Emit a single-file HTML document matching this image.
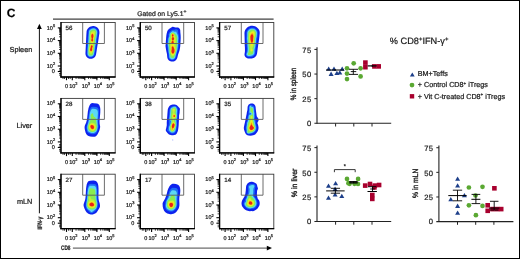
<!DOCTYPE html>
<html><head><meta charset="utf-8"><style>
html,body{margin:0;padding:0;background:#fff;}
body{width:520px;height:259px;overflow:hidden;}
svg{display:block;font-family:"Liberation Sans", sans-serif;will-change:transform;text-rendering:geometricPrecision;}
text{stroke:#1a1a1a;stroke-width:0.22px;paint-order:stroke;}
</style></head><body>
<svg width="520" height="259" viewBox="0 0 520 259">
<defs><filter id="bl" x="-20%" y="-20%" width="140%" height="140%"><feGaussianBlur stdDeviation="0.35"/></filter></defs>
<rect width="520" height="259" fill="#fff"/>
<rect x="0.5" y="0.5" width="519" height="258" fill="none" stroke="#000" stroke-width="1"/>
<text x="6.7" y="16.7" font-size="12" text-anchor="start" font-weight="bold" fill="#000" >C</text>
<g filter="url(#bl)">
<path d="M91.8,58.73 90.8,58.83 89.8,58.74 88.8,58.44 88,58.03 87.2,57.41 86.55,56.7 86.04,55.9 85.65,54.9 85.49,54.1 85.47,53.3 86.24,37.1 86.61,31.3 86.93,30.1 87.56,28.9 88.61,27.7 89.2,27.24 90,26.79 91,26.41 92,26.14 92.8,26.02 93.6,26.01 94.8,26.22 96,26.7 97,27.34 98,28.31 98.68,29.3 99.1,30.3 99.34,31.5 99.41,33.1 97.94,42.9 97.4,45.74 96.08,54.3 95.89,55.1 95.33,56.3 94.88,56.9 94.29,57.5 93.2,58.25 92.4,58.58 91.8,58.73Z" fill="#0a22ee"/>
<path d="M91.2,57.3 90.4,57.32 89.8,57.22 89,56.92 88.4,56.54 87.8,55.95 87.37,55.3 87.11,54.7 86.94,53.9 87.12,48.7 87.83,37.5 88.22,33.3 88.25,31.7 88.39,30.9 88.74,30.1 89.2,29.46 89.8,28.9 90.6,28.38 91.6,27.95 92.6,27.69 93.6,27.65 94.6,27.85 95.4,28.2 96.2,28.76 96.9,29.5 97.37,30.3 97.64,31.1 97.79,32.1 97.8,33.1 97.5,35.5 96.81,39.7 96.55,42.7 95.83,45.9 95.32,49.7 94.55,54.5 94.12,55.5 93.4,56.35 92.4,56.98 91.2,57.3Z" fill="#1e6cf6"/>
<path d="M91.2,56.5 90.4,56.53 89.8,56.42 89.2,56.17 88.8,55.9 88.39,55.5 88,54.9 87.77,54.3 87.67,53.7 87.78,49.1 88.36,41.5 88.64,39.1 88.68,37.3 88.84,35.5 89.01,31.9 89.1,31.3 89.33,30.7 89.73,30.1 90.2,29.66 91,29.18 92.19,28.7 93,28.5 93.6,28.47 94.4,28.62 95,28.88 95.63,29.3 96.22,29.9 96.62,30.5 96.92,31.3 97.06,32.1 97.08,32.9 96.51,36.9 95.94,39.5 95.9,40.1 95.98,41.7 95.91,42.5 95.17,45.5 94.49,50.5 93.84,54.3 93.48,55.1 92.8,55.86 92,56.3 91.2,56.5Z" fill="#5cd8f4"/>
<path d="M91.4,55.54 90.4,55.62 89.8,55.47 89.4,55.24 89.03,54.9 88.77,54.5 88.6,54.08 88.51,53.5 88.39,49.3 88.91,45.5 89.2,41.5 89.57,39.1 89.5,36.7 89.79,32.1 89.94,31.5 90.14,31.1 90.4,30.76 90.8,30.44 92.8,29.56 93.4,29.42 93.8,29.41 94.24,29.5 94.8,29.75 95.28,30.1 95.64,30.5 96,31.1 96.2,31.68 96.29,32.3 96.28,32.9 95.67,36.9 94.94,39.5 94.95,40.3 95.18,41.7 95.16,42.3 94.44,45.1 93.89,50.1 93.64,51.5 93.07,53.9 92.83,54.5 92.53,54.9 92.2,55.19 91.4,55.54Z" fill="#8aec50"/>
<path d="M91.2,53.91 90.8,53.95 90.4,53.85 90,53.5 89.8,53.17 89.24,51.7 88.99,50.1 89.09,48.5 90.29,43.5 90.2,41.1 90.4,38.9 90.23,36.5 90.34,34.5 90.7,32.7 90.87,32.3 91.17,31.9 91.8,31.55 93.4,30.98 94,30.9 94.49,31.1 94.88,31.5 95.13,32.1 95.19,32.7 94.73,36.7 94.13,39.1 94.1,41.7 93.46,43.9 93.59,46.3 93.25,50.1 92.99,51.3 92.49,52.5 91.8,53.5 91.2,53.91Z" fill="#c4ee3a"/>
<path d="M92.4,42.57 91.8,42.54 91.4,42.31 91.07,41.9 90.81,41.3 90.7,40.3 90.89,38.5 90.7,36.9 90.67,35.9 90.86,34.3 91.21,33.3 91.48,32.9 91.8,32.63 92.2,32.47 92.6,32.43 93.4,32.62 93.85,33.1 94.12,34.1 94.19,35.7 94.07,36.9 93.67,38.7 93.68,40.5 93.55,41.3 93.11,42.1 92.8,42.38 92.4,42.57ZM91.6,52.35 91.2,52.48 90.8,52.46 90.4,52.28 90,51.88 89.55,50.9 89.43,50.3 89.4,49.5 89.55,48.5 90.48,45.3 91,44.55 91.4,44.29 91.8,44.2 92.4,44.41 92.8,44.86 93.12,45.7 93.18,46.5 92.91,48.1 92.83,49.9 92.69,50.7 92.2,51.78 91.6,52.35Z" fill="#f4ea20"/>
<path d="M92.4,41.73 92,41.73 91.6,41.52 91.3,41.1 91.17,40.7 91.17,39.9 91.46,38.5 91.18,36.9 91.12,36.1 91.25,34.9 91.54,34.1 92,33.58 92.4,33.47 92.8,33.6 93.24,34.1 93.51,34.9 93.6,35.9 93.51,36.9 93.1,38.5 93.26,40.1 93.21,40.7 92.97,41.3 92.8,41.5 92.4,41.73ZM91.2,51.54 90.6,51.4 90.2,50.97 89.9,50.1 89.89,49.3 90.02,48.7 90.46,47.5 90.8,45.84 91.2,45.26 91.4,45.12 91.8,45.03 92.2,45.15 92.53,45.5 92.74,46.1 92.75,46.7 92.38,48.1 92.36,49.7 92.21,50.5 91.8,51.21 91.6,51.39 91.2,51.54Z" fill="#fa9418"/>
<path d="M92.4,41.36 92,41.36 91.64,41.1 91.44,40.7 91.38,40.3 91.47,39.7 91.91,38.5 91.43,36.7 91.42,35.5 91.56,34.9 91.8,34.4 92,34.19 92.4,34.05 92.8,34.27 93,34.55 93.2,35.1 93.3,35.9 93.2,36.9 92.64,38.5 93,39.9 93,40.5 92.8,41.03 92.4,41.36ZM91.4,50.98 91,51.05 90.8,50.98 90.48,50.7 90.22,50.1 90.18,49.5 90.3,48.9 90.81,47.7 90.9,46.5 91,46.07 91.2,45.7 91.4,45.52 91.8,45.4 92.1,45.5 92.31,45.7 92.49,46.1 92.52,46.5 92.4,47.1 92.01,48.1 92.06,49.5 91.99,50.1 91.8,50.58 91.4,50.98Z" fill="#e82012"/>
</g>
<path d="M82.7,22.5 V43.5 H104.4 V22.5" fill="none" stroke="#5c5c5c" stroke-width="0.9"/>
<rect x="61" y="22.5" width="54.2" height="54.5" fill="none" stroke="#3a3a3a" stroke-width="0.9"/>
<line x1="61" y1="22.1" x2="61" y2="77.6" stroke="#000" stroke-width="1.3" />
<line x1="60.4" y1="77" x2="115.6" y2="77" stroke="#000" stroke-width="1.3" />
<line x1="57.8" y1="27.9" x2="61" y2="27.9" stroke="#000" stroke-width="1.1" />
<line x1="59" y1="36.78" x2="61" y2="36.78" stroke="#000" stroke-width="0.75" />
<line x1="59" y1="34.54" x2="61" y2="34.54" stroke="#000" stroke-width="0.75" />
<line x1="59" y1="32.95" x2="61" y2="32.95" stroke="#000" stroke-width="0.75" />
<line x1="59" y1="31.72" x2="61" y2="31.72" stroke="#000" stroke-width="0.75" />
<line x1="59" y1="30.72" x2="61" y2="30.72" stroke="#000" stroke-width="0.75" />
<line x1="59" y1="29.87" x2="61" y2="29.87" stroke="#000" stroke-width="0.75" />
<line x1="59" y1="29.13" x2="61" y2="29.13" stroke="#000" stroke-width="0.75" />
<line x1="59" y1="28.48" x2="61" y2="28.48" stroke="#000" stroke-width="0.75" />
<line x1="57.8" y1="40.6" x2="61" y2="40.6" stroke="#000" stroke-width="1.1" />
<line x1="59" y1="49.48" x2="61" y2="49.48" stroke="#000" stroke-width="0.75" />
<line x1="59" y1="47.24" x2="61" y2="47.24" stroke="#000" stroke-width="0.75" />
<line x1="59" y1="45.65" x2="61" y2="45.65" stroke="#000" stroke-width="0.75" />
<line x1="59" y1="44.42" x2="61" y2="44.42" stroke="#000" stroke-width="0.75" />
<line x1="59" y1="43.42" x2="61" y2="43.42" stroke="#000" stroke-width="0.75" />
<line x1="59" y1="42.57" x2="61" y2="42.57" stroke="#000" stroke-width="0.75" />
<line x1="59" y1="41.83" x2="61" y2="41.83" stroke="#000" stroke-width="0.75" />
<line x1="59" y1="41.18" x2="61" y2="41.18" stroke="#000" stroke-width="0.75" />
<line x1="57.8" y1="53.3" x2="61" y2="53.3" stroke="#000" stroke-width="1.1" />
<line x1="59" y1="62.18" x2="61" y2="62.18" stroke="#000" stroke-width="0.75" />
<line x1="59" y1="59.94" x2="61" y2="59.94" stroke="#000" stroke-width="0.75" />
<line x1="59" y1="58.35" x2="61" y2="58.35" stroke="#000" stroke-width="0.75" />
<line x1="59" y1="57.12" x2="61" y2="57.12" stroke="#000" stroke-width="0.75" />
<line x1="59" y1="56.12" x2="61" y2="56.12" stroke="#000" stroke-width="0.75" />
<line x1="59" y1="55.27" x2="61" y2="55.27" stroke="#000" stroke-width="0.75" />
<line x1="59" y1="54.53" x2="61" y2="54.53" stroke="#000" stroke-width="0.75" />
<line x1="59" y1="53.88" x2="61" y2="53.88" stroke="#000" stroke-width="0.75" />
<line x1="57.8" y1="66" x2="61" y2="66" stroke="#000" stroke-width="1.1" />
<line x1="57.8" y1="71.5" x2="61" y2="71.5" stroke="#000" stroke-width="1.1" />
<line x1="59" y1="68.7" x2="61" y2="68.7" stroke="#000" stroke-width="0.75" />
<line x1="59" y1="70.1" x2="61" y2="70.1" stroke="#000" stroke-width="0.75" />
<line x1="59" y1="73.5" x2="61" y2="73.5" stroke="#000" stroke-width="0.75" />
<line x1="59" y1="75.1" x2="61" y2="75.1" stroke="#000" stroke-width="0.75" />
<line x1="66.5" y1="77" x2="66.5" y2="80.2" stroke="#000" stroke-width="1.1" />
<line x1="72.3" y1="77" x2="72.3" y2="80.2" stroke="#000" stroke-width="1.1" />
<line x1="84.8" y1="77" x2="84.8" y2="80.2" stroke="#000" stroke-width="1.1" />
<line x1="96.9" y1="77" x2="96.9" y2="80.2" stroke="#000" stroke-width="1.1" />
<line x1="109.3" y1="77" x2="109.3" y2="80.2" stroke="#000" stroke-width="1.1" />
<line x1="76.06" y1="77" x2="76.06" y2="79" stroke="#000" stroke-width="0.75" />
<line x1="78.26" y1="77" x2="78.26" y2="79" stroke="#000" stroke-width="0.75" />
<line x1="79.83" y1="77" x2="79.83" y2="79" stroke="#000" stroke-width="0.75" />
<line x1="81.04" y1="77" x2="81.04" y2="79" stroke="#000" stroke-width="0.75" />
<line x1="82.03" y1="77" x2="82.03" y2="79" stroke="#000" stroke-width="0.75" />
<line x1="82.86" y1="77" x2="82.86" y2="79" stroke="#000" stroke-width="0.75" />
<line x1="83.59" y1="77" x2="83.59" y2="79" stroke="#000" stroke-width="0.75" />
<line x1="84.23" y1="77" x2="84.23" y2="79" stroke="#000" stroke-width="0.75" />
<line x1="88.56" y1="77" x2="88.56" y2="79" stroke="#000" stroke-width="0.75" />
<line x1="90.76" y1="77" x2="90.76" y2="79" stroke="#000" stroke-width="0.75" />
<line x1="92.33" y1="77" x2="92.33" y2="79" stroke="#000" stroke-width="0.75" />
<line x1="93.54" y1="77" x2="93.54" y2="79" stroke="#000" stroke-width="0.75" />
<line x1="94.53" y1="77" x2="94.53" y2="79" stroke="#000" stroke-width="0.75" />
<line x1="95.36" y1="77" x2="95.36" y2="79" stroke="#000" stroke-width="0.75" />
<line x1="96.09" y1="77" x2="96.09" y2="79" stroke="#000" stroke-width="0.75" />
<line x1="96.73" y1="77" x2="96.73" y2="79" stroke="#000" stroke-width="0.75" />
<line x1="100.66" y1="77" x2="100.66" y2="79" stroke="#000" stroke-width="0.75" />
<line x1="102.86" y1="77" x2="102.86" y2="79" stroke="#000" stroke-width="0.75" />
<line x1="104.43" y1="77" x2="104.43" y2="79" stroke="#000" stroke-width="0.75" />
<line x1="105.64" y1="77" x2="105.64" y2="79" stroke="#000" stroke-width="0.75" />
<line x1="106.63" y1="77" x2="106.63" y2="79" stroke="#000" stroke-width="0.75" />
<line x1="107.46" y1="77" x2="107.46" y2="79" stroke="#000" stroke-width="0.75" />
<line x1="108.19" y1="77" x2="108.19" y2="79" stroke="#000" stroke-width="0.75" />
<line x1="108.83" y1="77" x2="108.83" y2="79" stroke="#000" stroke-width="0.75" />
<line x1="63" y1="77" x2="63" y2="79" stroke="#000" stroke-width="0.75" />
<line x1="64.5" y1="77" x2="64.5" y2="79" stroke="#000" stroke-width="0.75" />
<line x1="68.5" y1="77" x2="68.5" y2="79" stroke="#000" stroke-width="0.75" />
<line x1="70.2" y1="77" x2="70.2" y2="79" stroke="#000" stroke-width="0.75" />
<text x="55.1" y="29.55" font-size="5.5" text-anchor="end" fill="#1a1a1a">10<tspan font-size="3.96" dy="-2.31">5</tspan></text>
<text x="55.1" y="42.25" font-size="5.5" text-anchor="end" fill="#1a1a1a">10<tspan font-size="3.96" dy="-2.31">4</tspan></text>
<text x="55.1" y="54.95" font-size="5.5" text-anchor="end" fill="#1a1a1a">10<tspan font-size="3.96" dy="-2.31">3</tspan></text>
<text x="55.1" y="67.65" font-size="5.5" text-anchor="end" fill="#1a1a1a">10<tspan font-size="3.96" dy="-2.31">2</tspan></text>
<text x="54.9" y="73.2" font-size="5.5" text-anchor="end" fill="#1a1a1a" >0</text>
<text x="66.5" y="87.8" font-size="5.5" text-anchor="middle" fill="#1a1a1a" >0</text>
<text x="73.3" y="87.8" font-size="5.5" text-anchor="middle" fill="#1a1a1a">10<tspan font-size="3.96" dy="-2.31">2</tspan></text>
<text x="85.8" y="87.8" font-size="5.5" text-anchor="middle" fill="#1a1a1a">10<tspan font-size="3.96" dy="-2.31">3</tspan></text>
<text x="97.9" y="87.8" font-size="5.5" text-anchor="middle" fill="#1a1a1a">10<tspan font-size="3.96" dy="-2.31">4</tspan></text>
<text x="110.3" y="87.8" font-size="5.5" text-anchor="middle" fill="#1a1a1a">10<tspan font-size="3.96" dy="-2.31">5</tspan></text>
<text x="65.6" y="29.9" font-size="6.2" text-anchor="start" fill="#1a1a1a" >56</text>
<g filter="url(#bl)">
<path d="M172.9,61.51 172.1,61.55 171.3,61.47 170.5,61.26 169.9,61 169.3,60.63 168.5,59.93 167.99,59.3 167.66,58.7 167.25,57.3 167,54.3 166.14,50.3 165.49,45.9 165.7,43.9 166.19,36.7 166.58,34.1 167.28,31.3 167.57,30.7 168.01,30.1 169.3,28.8 172.1,26.95 172.5,26.8 172.9,26.76 175.5,27.41 176.1,27.47 177.5,27.41 178.1,27.51 178.9,27.91 179.67,28.7 180.07,29.5 180.25,30.3 180.33,32.3 180.63,35.5 180.7,37.7 180.48,42.9 180.15,46.9 179.96,48.3 179.44,50.7 178.1,54.38 177.21,57.9 176.87,58.7 176.52,59.3 176.04,59.9 175.5,60.41 174.3,61.14 173.5,61.41 172.9,61.51Z" fill="#0a22ee"/>
<path d="M173.3,59.94 172.7,60.06 172.1,60.07 171.5,59.98 170.7,59.71 169.95,59.3 169.44,58.9 169.1,58.5 168.82,57.9 168.65,56.9 168.56,54.5 168.14,52.5 167.76,49.7 167.65,47.9 167.22,45.5 167.23,44.1 167.61,39.3 167.85,37.9 168.48,36.7 168.61,36.3 168.65,35.9 168.49,34.7 168.59,33.9 169.01,32.9 169.7,31.94 171.7,30.25 172.5,29.77 173.1,29.65 174.3,29.65 175.7,29.35 176.5,29.32 177.3,29.56 177.69,29.9 177.92,30.3 178.07,30.9 178.21,32.7 178.75,34.9 178.94,36.1 179.05,38.7 178.82,40.7 178.86,43.1 178.57,46.3 177.99,49.7 176.78,53.5 176.3,55.9 175.83,57.5 175.44,58.3 174.79,59.1 174.1,59.61 173.3,59.94Z" fill="#1e6cf6"/>
<path d="M173.3,59.11 172.3,59.23 171.7,59.13 171.02,58.9 170.5,58.64 170.04,58.3 169.73,57.9 169.55,57.5 169.41,56.7 169.32,54.7 168.8,52.3 168.33,47.3 167.95,45.3 167.88,44.5 168.18,42.3 168.48,38.9 168.72,38.1 169.23,37.1 169.43,36.5 169.5,34.7 169.64,34.1 170.1,33.3 171.1,32.24 172.1,31.45 172.5,31.27 172.9,31.21 173.3,31.27 174.7,31.72 175.23,31.7 175.9,31.52 176.1,31.53 176.29,31.7 176.65,32.7 177.46,34.3 177.82,35.3 178.1,36.65 178.21,38.1 178.17,39.1 177.89,40.9 178.03,42.7 177.99,43.9 177.57,47.5 177.22,49.7 175.11,57.3 174.8,57.9 174.31,58.5 173.9,58.82 173.3,59.11Z" fill="#5cd8f4"/>
<path d="M173.3,57.99 172.9,58.09 172.5,58.08 171.5,57.78 170.9,57.46 170.47,56.9 170.06,54.5 169.52,52.3 169.09,46.7 168.97,46.1 168.62,45.1 168.53,44.5 168.6,43.9 169.07,42.3 169.4,38.9 170.1,36.75 170.29,35.1 170.45,34.5 170.89,33.7 171.5,33.03 172.1,32.62 172.7,32.45 173.3,32.57 174.1,33.05 175.77,34.5 176.3,35.09 176.7,35.77 176.97,36.5 177.17,37.5 177.25,38.5 177.04,40.9 177.09,43.5 176.48,49.9 175.41,53.9 174.31,56.9 173.9,57.56 173.3,57.99Z" fill="#8aec50"/>
<path d="M173.1,56 172.7,56.07 172.3,56 171.9,55.81 171.5,55.43 170.98,54.5 170.42,52.9 170.17,51.3 170.34,49.3 170.11,47.5 170.18,45.9 170.1,45.39 169.8,44.5 170.18,42.9 170.45,40.7 170.51,38.7 170.89,36.9 170.9,35.5 170.99,34.9 171.22,34.3 171.67,33.7 172.1,33.38 172.7,33.22 173.3,33.36 173.7,33.62 174.16,34.1 174.41,34.5 174.65,35.1 175.03,36.5 175.66,37.9 175.84,39.1 175.71,42.7 175.45,45.5 175.51,46.9 175.82,48.9 175.76,50.1 175.26,52.5 174.7,54.06 174.3,54.8 173.9,55.36 173.5,55.76 173.1,56Z" fill="#c4ee3a"/>
<path d="M172.9,54.9 172.5,54.85 172.1,54.67 171.7,54.31 171.41,53.9 170.9,52.7 170.68,51.3 170.97,49.1 170.8,47.7 170.82,47.1 171.4,44.9 171.37,44.5 170.96,43.3 170.87,42.5 170.93,41.9 171.28,40.5 171.09,38.9 171.14,38.3 171.45,36.9 171.31,35.7 171.33,35.1 171.52,34.5 171.79,34.1 172.3,33.73 172.7,33.65 173.1,33.72 173.5,33.96 173.81,34.3 174.03,34.7 174.2,35.5 174.19,36.7 174.79,38.1 174.88,38.5 174.87,39.3 174.39,40.9 174.55,42.1 174.52,42.9 174.01,44.5 173.97,44.9 174.1,45.5 175.17,48.7 175.3,49.7 175,51.9 174.5,53.42 174.1,54.11 173.7,54.55 173.3,54.81 172.9,54.9Z" fill="#f4ea20"/>
<path d="M172.9,44.14 172.5,44.18 171.9,43.8 171.5,43.17 171.37,42.5 171.5,41.78 171.99,40.9 172.09,40.5 171.7,39.5 171.58,38.9 171.63,38.3 172.11,36.9 171.75,35.7 171.73,35.1 171.86,34.7 172.1,34.37 172.3,34.22 172.7,34.11 173.1,34.21 173.3,34.35 173.65,34.9 173.72,35.5 173.48,36.5 173.48,36.9 174.2,38.1 174.33,38.7 174.17,39.5 173.44,40.7 173.9,42.1 173.88,42.9 173.5,43.67 172.9,44.14ZM173.1,53.94 172.5,53.87 171.9,53.38 171.45,52.5 171.25,51.5 171.27,50.9 171.54,49.3 171.46,47.7 171.53,47.1 171.9,46.25 172.1,46 172.5,45.75 172.9,45.82 173.5,46.5 174.46,48.7 174.7,49.7 174.62,51.3 174.3,52.63 174.08,53.1 173.7,53.6 173.1,53.94Z" fill="#fa9418"/>
<path d="M172.7,36.51 172.3,36.22 172.1,35.91 171.97,35.3 172.16,34.7 172.37,34.5 172.7,34.4 173.04,34.5 173.26,34.7 173.46,35.3 173.41,35.7 173.23,36.1 172.9,36.47 172.7,36.51ZM173.1,40.18 172.7,40.22 172.3,39.94 172,39.5 171.83,38.9 171.88,38.3 172.04,37.9 172.3,37.51 172.7,37.16 173.1,37.23 173.5,37.55 173.9,38.07 174.05,38.5 174.03,39.1 173.85,39.5 173.5,39.91 173.1,40.18ZM172.7,43.74 172.3,43.66 171.9,43.33 171.68,42.9 171.62,42.5 171.67,42.1 171.9,41.6 172.3,41.19 172.7,41.04 173.1,41.24 173.33,41.5 173.55,41.9 173.66,42.5 173.59,42.9 173.39,43.3 173.1,43.59 172.7,43.74ZM173.3,53.36 173.1,53.43 172.7,53.41 172.21,53.1 171.82,52.5 171.61,51.7 171.6,50.9 171.87,49.3 171.87,47.5 172.1,46.9 172.5,46.57 172.9,46.65 173.3,47.1 174.04,48.7 174.32,49.7 174.34,51.1 174.17,52.1 173.8,52.9 173.3,53.36Z" fill="#e82012"/>
</g>
<path d="M162,22.5 V43.5 H183.7 V22.5" fill="none" stroke="#5c5c5c" stroke-width="0.9"/>
<rect x="140.3" y="22.5" width="54.2" height="54.5" fill="none" stroke="#3a3a3a" stroke-width="0.9"/>
<line x1="140.3" y1="22.1" x2="140.3" y2="77.6" stroke="#000" stroke-width="1.3" />
<line x1="139.7" y1="77" x2="194.9" y2="77" stroke="#000" stroke-width="1.3" />
<line x1="137.1" y1="27.9" x2="140.3" y2="27.9" stroke="#000" stroke-width="1.1" />
<line x1="138.3" y1="36.78" x2="140.3" y2="36.78" stroke="#000" stroke-width="0.75" />
<line x1="138.3" y1="34.54" x2="140.3" y2="34.54" stroke="#000" stroke-width="0.75" />
<line x1="138.3" y1="32.95" x2="140.3" y2="32.95" stroke="#000" stroke-width="0.75" />
<line x1="138.3" y1="31.72" x2="140.3" y2="31.72" stroke="#000" stroke-width="0.75" />
<line x1="138.3" y1="30.72" x2="140.3" y2="30.72" stroke="#000" stroke-width="0.75" />
<line x1="138.3" y1="29.87" x2="140.3" y2="29.87" stroke="#000" stroke-width="0.75" />
<line x1="138.3" y1="29.13" x2="140.3" y2="29.13" stroke="#000" stroke-width="0.75" />
<line x1="138.3" y1="28.48" x2="140.3" y2="28.48" stroke="#000" stroke-width="0.75" />
<line x1="137.1" y1="40.6" x2="140.3" y2="40.6" stroke="#000" stroke-width="1.1" />
<line x1="138.3" y1="49.48" x2="140.3" y2="49.48" stroke="#000" stroke-width="0.75" />
<line x1="138.3" y1="47.24" x2="140.3" y2="47.24" stroke="#000" stroke-width="0.75" />
<line x1="138.3" y1="45.65" x2="140.3" y2="45.65" stroke="#000" stroke-width="0.75" />
<line x1="138.3" y1="44.42" x2="140.3" y2="44.42" stroke="#000" stroke-width="0.75" />
<line x1="138.3" y1="43.42" x2="140.3" y2="43.42" stroke="#000" stroke-width="0.75" />
<line x1="138.3" y1="42.57" x2="140.3" y2="42.57" stroke="#000" stroke-width="0.75" />
<line x1="138.3" y1="41.83" x2="140.3" y2="41.83" stroke="#000" stroke-width="0.75" />
<line x1="138.3" y1="41.18" x2="140.3" y2="41.18" stroke="#000" stroke-width="0.75" />
<line x1="137.1" y1="53.3" x2="140.3" y2="53.3" stroke="#000" stroke-width="1.1" />
<line x1="138.3" y1="62.18" x2="140.3" y2="62.18" stroke="#000" stroke-width="0.75" />
<line x1="138.3" y1="59.94" x2="140.3" y2="59.94" stroke="#000" stroke-width="0.75" />
<line x1="138.3" y1="58.35" x2="140.3" y2="58.35" stroke="#000" stroke-width="0.75" />
<line x1="138.3" y1="57.12" x2="140.3" y2="57.12" stroke="#000" stroke-width="0.75" />
<line x1="138.3" y1="56.12" x2="140.3" y2="56.12" stroke="#000" stroke-width="0.75" />
<line x1="138.3" y1="55.27" x2="140.3" y2="55.27" stroke="#000" stroke-width="0.75" />
<line x1="138.3" y1="54.53" x2="140.3" y2="54.53" stroke="#000" stroke-width="0.75" />
<line x1="138.3" y1="53.88" x2="140.3" y2="53.88" stroke="#000" stroke-width="0.75" />
<line x1="137.1" y1="66" x2="140.3" y2="66" stroke="#000" stroke-width="1.1" />
<line x1="137.1" y1="71.5" x2="140.3" y2="71.5" stroke="#000" stroke-width="1.1" />
<line x1="138.3" y1="68.7" x2="140.3" y2="68.7" stroke="#000" stroke-width="0.75" />
<line x1="138.3" y1="70.1" x2="140.3" y2="70.1" stroke="#000" stroke-width="0.75" />
<line x1="138.3" y1="73.5" x2="140.3" y2="73.5" stroke="#000" stroke-width="0.75" />
<line x1="138.3" y1="75.1" x2="140.3" y2="75.1" stroke="#000" stroke-width="0.75" />
<line x1="145.8" y1="77" x2="145.8" y2="80.2" stroke="#000" stroke-width="1.1" />
<line x1="151.6" y1="77" x2="151.6" y2="80.2" stroke="#000" stroke-width="1.1" />
<line x1="164.1" y1="77" x2="164.1" y2="80.2" stroke="#000" stroke-width="1.1" />
<line x1="176.2" y1="77" x2="176.2" y2="80.2" stroke="#000" stroke-width="1.1" />
<line x1="188.6" y1="77" x2="188.6" y2="80.2" stroke="#000" stroke-width="1.1" />
<line x1="155.36" y1="77" x2="155.36" y2="79" stroke="#000" stroke-width="0.75" />
<line x1="157.56" y1="77" x2="157.56" y2="79" stroke="#000" stroke-width="0.75" />
<line x1="159.13" y1="77" x2="159.13" y2="79" stroke="#000" stroke-width="0.75" />
<line x1="160.34" y1="77" x2="160.34" y2="79" stroke="#000" stroke-width="0.75" />
<line x1="161.33" y1="77" x2="161.33" y2="79" stroke="#000" stroke-width="0.75" />
<line x1="162.16" y1="77" x2="162.16" y2="79" stroke="#000" stroke-width="0.75" />
<line x1="162.89" y1="77" x2="162.89" y2="79" stroke="#000" stroke-width="0.75" />
<line x1="163.53" y1="77" x2="163.53" y2="79" stroke="#000" stroke-width="0.75" />
<line x1="167.86" y1="77" x2="167.86" y2="79" stroke="#000" stroke-width="0.75" />
<line x1="170.06" y1="77" x2="170.06" y2="79" stroke="#000" stroke-width="0.75" />
<line x1="171.63" y1="77" x2="171.63" y2="79" stroke="#000" stroke-width="0.75" />
<line x1="172.84" y1="77" x2="172.84" y2="79" stroke="#000" stroke-width="0.75" />
<line x1="173.83" y1="77" x2="173.83" y2="79" stroke="#000" stroke-width="0.75" />
<line x1="174.66" y1="77" x2="174.66" y2="79" stroke="#000" stroke-width="0.75" />
<line x1="175.39" y1="77" x2="175.39" y2="79" stroke="#000" stroke-width="0.75" />
<line x1="176.03" y1="77" x2="176.03" y2="79" stroke="#000" stroke-width="0.75" />
<line x1="179.96" y1="77" x2="179.96" y2="79" stroke="#000" stroke-width="0.75" />
<line x1="182.16" y1="77" x2="182.16" y2="79" stroke="#000" stroke-width="0.75" />
<line x1="183.73" y1="77" x2="183.73" y2="79" stroke="#000" stroke-width="0.75" />
<line x1="184.94" y1="77" x2="184.94" y2="79" stroke="#000" stroke-width="0.75" />
<line x1="185.93" y1="77" x2="185.93" y2="79" stroke="#000" stroke-width="0.75" />
<line x1="186.76" y1="77" x2="186.76" y2="79" stroke="#000" stroke-width="0.75" />
<line x1="187.49" y1="77" x2="187.49" y2="79" stroke="#000" stroke-width="0.75" />
<line x1="188.13" y1="77" x2="188.13" y2="79" stroke="#000" stroke-width="0.75" />
<line x1="142.3" y1="77" x2="142.3" y2="79" stroke="#000" stroke-width="0.75" />
<line x1="143.8" y1="77" x2="143.8" y2="79" stroke="#000" stroke-width="0.75" />
<line x1="147.8" y1="77" x2="147.8" y2="79" stroke="#000" stroke-width="0.75" />
<line x1="149.5" y1="77" x2="149.5" y2="79" stroke="#000" stroke-width="0.75" />
<text x="134.4" y="29.55" font-size="5.5" text-anchor="end" fill="#1a1a1a">10<tspan font-size="3.96" dy="-2.31">5</tspan></text>
<text x="134.4" y="42.25" font-size="5.5" text-anchor="end" fill="#1a1a1a">10<tspan font-size="3.96" dy="-2.31">4</tspan></text>
<text x="134.4" y="54.95" font-size="5.5" text-anchor="end" fill="#1a1a1a">10<tspan font-size="3.96" dy="-2.31">3</tspan></text>
<text x="134.4" y="67.65" font-size="5.5" text-anchor="end" fill="#1a1a1a">10<tspan font-size="3.96" dy="-2.31">2</tspan></text>
<text x="134.2" y="73.2" font-size="5.5" text-anchor="end" fill="#1a1a1a" >0</text>
<text x="145.8" y="87.8" font-size="5.5" text-anchor="middle" fill="#1a1a1a" >0</text>
<text x="152.6" y="87.8" font-size="5.5" text-anchor="middle" fill="#1a1a1a">10<tspan font-size="3.96" dy="-2.31">2</tspan></text>
<text x="165.1" y="87.8" font-size="5.5" text-anchor="middle" fill="#1a1a1a">10<tspan font-size="3.96" dy="-2.31">3</tspan></text>
<text x="177.2" y="87.8" font-size="5.5" text-anchor="middle" fill="#1a1a1a">10<tspan font-size="3.96" dy="-2.31">4</tspan></text>
<text x="189.6" y="87.8" font-size="5.5" text-anchor="middle" fill="#1a1a1a">10<tspan font-size="3.96" dy="-2.31">5</tspan></text>
<text x="144.9" y="29.9" font-size="6.2" text-anchor="start" fill="#1a1a1a" >50</text>
<g filter="url(#bl)">
<path d="M251.8,58.52 250.8,58.61 249.4,58.59 248.2,58.45 247.2,58.18 246.4,57.81 245.6,57.18 245.06,56.5 244.68,55.7 244.54,55.1 244.5,54.3 244.92,51.7 244.97,50.1 244.9,47.3 244.7,44.7 244.73,42.1 244.47,32.9 244.67,31.5 245.16,30.1 245.86,28.9 246.93,27.7 248.2,26.78 249.6,26.13 250.8,25.83 252.4,25.75 253.8,25.89 255,26.24 256.4,26.98 257.51,27.9 258.53,29.1 259.25,30.3 259.59,31.5 259.72,33.1 258.96,40.3 258.21,44.7 257.09,53.3 256.86,54.3 256.55,55.1 256.08,55.9 255.6,56.51 255,57.08 254.2,57.64 253.4,58.06 252.6,58.34 251.8,58.52Z" fill="#0a22ee"/>
<path d="M250,56.92 248.4,56.92 247.8,56.79 247.2,56.52 246.64,56.1 246.31,55.7 246.09,55.3 245.93,54.7 245.99,53.7 246.56,52.1 246.69,51.5 246.92,48.7 246.73,45.9 246.59,41.7 246.22,38.5 246.44,35.7 246.43,32.7 246.7,31.5 247.19,30.5 248,29.52 249,28.69 249.8,28.21 250.6,27.93 251.6,27.81 253.2,27.83 254.4,28.11 255.4,28.65 256.4,29.56 257.18,30.7 257.58,31.7 257.79,32.9 257.8,33.5 257.53,36.1 255.57,50.1 255.27,53.1 255.06,53.9 254.78,54.5 254.37,55.1 253.8,55.68 253.2,56.1 252.6,56.4 251.8,56.65 250,56.92Z" fill="#1e6cf6"/>
<path d="M249.4,56.11 248.4,56.09 247.6,55.82 246.98,55.3 246.76,54.9 246.66,54.5 246.76,53.7 247.4,52.3 247.59,51.7 247.91,48.9 247.64,46.1 247.44,41.3 247.09,38.5 247.31,35.9 247.32,32.7 247.59,31.7 248,30.97 248.61,30.3 249.8,29.32 250.4,28.96 251.2,28.71 252,28.63 253,28.66 254,28.89 255,29.45 255.8,30.2 256.4,31.1 256.77,32.1 256.92,33.1 256.73,36.1 256.54,37.1 256,38.9 255.89,41.7 255.13,47.1 254.93,48.1 254.4,49.9 254.42,52.1 254.36,52.9 254.23,53.5 253.94,54.1 253.6,54.57 253.2,54.95 252.6,55.34 251.4,55.76 249.4,56.11Z" fill="#5cd8f4"/>
<path d="M249.6,54.94 249,55.01 248.35,54.9 248.04,54.7 247.89,54.5 247.81,54.1 247.97,53.5 248.55,52.3 248.66,51.9 248.89,49.3 248.85,48.3 248.56,45.9 248.13,38.7 248.2,32.9 248.4,32.19 248.8,31.55 249.2,31.16 250.6,30.1 251.2,29.73 251.8,29.54 252.4,29.47 253,29.51 253.8,29.74 254.6,30.23 255.25,30.9 255.73,31.7 255.94,32.3 256.07,33.1 255.96,35.9 255.78,36.7 255.2,37.93 255,38.69 254.98,39.3 255.1,40.9 255.02,42.1 254.22,46.9 253.98,47.7 253.44,48.9 253.42,50.5 253.18,53.1 252.8,53.75 252.2,54.19 249.6,54.94Z" fill="#8aec50"/>
<path d="M251.6,51.73 251,51.65 250.6,51.36 250.33,50.9 250.18,50.3 250.25,48.3 249.63,44.9 249.23,40.9 249.09,36.7 249.15,34.1 249.28,33.1 249.67,32.5 251.03,31.7 252.2,30.83 252.6,30.67 253,30.65 253.6,30.81 254,31.05 254.46,31.5 254.83,32.1 255.03,32.7 255.1,33.3 255.04,35.5 254.95,36.1 254.46,37.5 254.3,38.3 254.33,41.3 253.97,43.5 253.2,46.34 252.88,47.1 252.31,48.1 252.32,48.5 252.84,49.7 252.84,50.5 252.68,50.9 252.4,51.29 252,51.6 251.6,51.73Z" fill="#c4ee3a"/>
<path d="M251.8,45.76 251.6,45.75 251.2,45.54 250.86,45.1 250.51,44.3 250.18,43.1 249.94,41.7 249.8,40.3 249.66,37.1 249.7,35.9 249.94,34.1 250.15,33.5 250.4,33.12 250.96,32.7 252.2,31.99 252.6,31.81 253,31.75 253.4,31.84 253.8,32.15 254.12,32.7 254.26,33.3 254.28,35.5 253.86,38.3 253.84,41.1 253.55,42.7 253,44.35 252.4,45.37 252.2,45.56 251.8,45.76ZM252,50.93 251.6,50.99 251.34,50.9 251.09,50.7 250.88,50.3 250.91,49.7 251.18,49.3 251.4,49.16 251.8,49.14 252,49.21 252.2,49.36 252.43,49.7 252.51,50.1 252.42,50.5 252.2,50.8 252,50.93Z" fill="#f4ea20"/>
<path d="M252,43.54 251.6,43.47 251.22,43.1 250.99,42.7 250.71,41.9 250.4,40.1 250.21,36.9 250.4,35.57 250.89,34.3 251.2,33.86 251.6,33.53 252,33.33 252.4,33.26 252.8,33.4 253.17,34.1 253.5,35.5 253.55,36.5 253.34,40.5 253.2,41.47 252.95,42.3 252.6,43.03 252.4,43.28 252,43.54Z" fill="#fa9418"/>
<path d="M252,42.52 251.6,42.4 251.4,42.19 250.99,41.3 250.73,39.9 250.5,37.1 250.62,36.1 251,35.15 251.4,34.63 251.8,34.38 252,34.34 252.4,34.44 252.81,34.9 253.13,35.7 253.24,36.7 252.95,40.9 252.6,41.95 252.4,42.25 252,42.52Z" fill="#e82012"/>
</g>
<path d="M241.3,22.5 V43.5 H263 V22.5" fill="none" stroke="#5c5c5c" stroke-width="0.9"/>
<rect x="219.6" y="22.5" width="54.2" height="54.5" fill="none" stroke="#3a3a3a" stroke-width="0.9"/>
<line x1="219.6" y1="22.1" x2="219.6" y2="77.6" stroke="#000" stroke-width="1.3" />
<line x1="219" y1="77" x2="274.2" y2="77" stroke="#000" stroke-width="1.3" />
<line x1="216.4" y1="27.9" x2="219.6" y2="27.9" stroke="#000" stroke-width="1.1" />
<line x1="217.6" y1="36.78" x2="219.6" y2="36.78" stroke="#000" stroke-width="0.75" />
<line x1="217.6" y1="34.54" x2="219.6" y2="34.54" stroke="#000" stroke-width="0.75" />
<line x1="217.6" y1="32.95" x2="219.6" y2="32.95" stroke="#000" stroke-width="0.75" />
<line x1="217.6" y1="31.72" x2="219.6" y2="31.72" stroke="#000" stroke-width="0.75" />
<line x1="217.6" y1="30.72" x2="219.6" y2="30.72" stroke="#000" stroke-width="0.75" />
<line x1="217.6" y1="29.87" x2="219.6" y2="29.87" stroke="#000" stroke-width="0.75" />
<line x1="217.6" y1="29.13" x2="219.6" y2="29.13" stroke="#000" stroke-width="0.75" />
<line x1="217.6" y1="28.48" x2="219.6" y2="28.48" stroke="#000" stroke-width="0.75" />
<line x1="216.4" y1="40.6" x2="219.6" y2="40.6" stroke="#000" stroke-width="1.1" />
<line x1="217.6" y1="49.48" x2="219.6" y2="49.48" stroke="#000" stroke-width="0.75" />
<line x1="217.6" y1="47.24" x2="219.6" y2="47.24" stroke="#000" stroke-width="0.75" />
<line x1="217.6" y1="45.65" x2="219.6" y2="45.65" stroke="#000" stroke-width="0.75" />
<line x1="217.6" y1="44.42" x2="219.6" y2="44.42" stroke="#000" stroke-width="0.75" />
<line x1="217.6" y1="43.42" x2="219.6" y2="43.42" stroke="#000" stroke-width="0.75" />
<line x1="217.6" y1="42.57" x2="219.6" y2="42.57" stroke="#000" stroke-width="0.75" />
<line x1="217.6" y1="41.83" x2="219.6" y2="41.83" stroke="#000" stroke-width="0.75" />
<line x1="217.6" y1="41.18" x2="219.6" y2="41.18" stroke="#000" stroke-width="0.75" />
<line x1="216.4" y1="53.3" x2="219.6" y2="53.3" stroke="#000" stroke-width="1.1" />
<line x1="217.6" y1="62.18" x2="219.6" y2="62.18" stroke="#000" stroke-width="0.75" />
<line x1="217.6" y1="59.94" x2="219.6" y2="59.94" stroke="#000" stroke-width="0.75" />
<line x1="217.6" y1="58.35" x2="219.6" y2="58.35" stroke="#000" stroke-width="0.75" />
<line x1="217.6" y1="57.12" x2="219.6" y2="57.12" stroke="#000" stroke-width="0.75" />
<line x1="217.6" y1="56.12" x2="219.6" y2="56.12" stroke="#000" stroke-width="0.75" />
<line x1="217.6" y1="55.27" x2="219.6" y2="55.27" stroke="#000" stroke-width="0.75" />
<line x1="217.6" y1="54.53" x2="219.6" y2="54.53" stroke="#000" stroke-width="0.75" />
<line x1="217.6" y1="53.88" x2="219.6" y2="53.88" stroke="#000" stroke-width="0.75" />
<line x1="216.4" y1="66" x2="219.6" y2="66" stroke="#000" stroke-width="1.1" />
<line x1="216.4" y1="71.5" x2="219.6" y2="71.5" stroke="#000" stroke-width="1.1" />
<line x1="217.6" y1="68.7" x2="219.6" y2="68.7" stroke="#000" stroke-width="0.75" />
<line x1="217.6" y1="70.1" x2="219.6" y2="70.1" stroke="#000" stroke-width="0.75" />
<line x1="217.6" y1="73.5" x2="219.6" y2="73.5" stroke="#000" stroke-width="0.75" />
<line x1="217.6" y1="75.1" x2="219.6" y2="75.1" stroke="#000" stroke-width="0.75" />
<line x1="225.1" y1="77" x2="225.1" y2="80.2" stroke="#000" stroke-width="1.1" />
<line x1="230.9" y1="77" x2="230.9" y2="80.2" stroke="#000" stroke-width="1.1" />
<line x1="243.4" y1="77" x2="243.4" y2="80.2" stroke="#000" stroke-width="1.1" />
<line x1="255.5" y1="77" x2="255.5" y2="80.2" stroke="#000" stroke-width="1.1" />
<line x1="267.9" y1="77" x2="267.9" y2="80.2" stroke="#000" stroke-width="1.1" />
<line x1="234.66" y1="77" x2="234.66" y2="79" stroke="#000" stroke-width="0.75" />
<line x1="236.86" y1="77" x2="236.86" y2="79" stroke="#000" stroke-width="0.75" />
<line x1="238.43" y1="77" x2="238.43" y2="79" stroke="#000" stroke-width="0.75" />
<line x1="239.64" y1="77" x2="239.64" y2="79" stroke="#000" stroke-width="0.75" />
<line x1="240.63" y1="77" x2="240.63" y2="79" stroke="#000" stroke-width="0.75" />
<line x1="241.46" y1="77" x2="241.46" y2="79" stroke="#000" stroke-width="0.75" />
<line x1="242.19" y1="77" x2="242.19" y2="79" stroke="#000" stroke-width="0.75" />
<line x1="242.83" y1="77" x2="242.83" y2="79" stroke="#000" stroke-width="0.75" />
<line x1="247.16" y1="77" x2="247.16" y2="79" stroke="#000" stroke-width="0.75" />
<line x1="249.36" y1="77" x2="249.36" y2="79" stroke="#000" stroke-width="0.75" />
<line x1="250.93" y1="77" x2="250.93" y2="79" stroke="#000" stroke-width="0.75" />
<line x1="252.14" y1="77" x2="252.14" y2="79" stroke="#000" stroke-width="0.75" />
<line x1="253.13" y1="77" x2="253.13" y2="79" stroke="#000" stroke-width="0.75" />
<line x1="253.96" y1="77" x2="253.96" y2="79" stroke="#000" stroke-width="0.75" />
<line x1="254.69" y1="77" x2="254.69" y2="79" stroke="#000" stroke-width="0.75" />
<line x1="255.33" y1="77" x2="255.33" y2="79" stroke="#000" stroke-width="0.75" />
<line x1="259.26" y1="77" x2="259.26" y2="79" stroke="#000" stroke-width="0.75" />
<line x1="261.46" y1="77" x2="261.46" y2="79" stroke="#000" stroke-width="0.75" />
<line x1="263.03" y1="77" x2="263.03" y2="79" stroke="#000" stroke-width="0.75" />
<line x1="264.24" y1="77" x2="264.24" y2="79" stroke="#000" stroke-width="0.75" />
<line x1="265.23" y1="77" x2="265.23" y2="79" stroke="#000" stroke-width="0.75" />
<line x1="266.06" y1="77" x2="266.06" y2="79" stroke="#000" stroke-width="0.75" />
<line x1="266.79" y1="77" x2="266.79" y2="79" stroke="#000" stroke-width="0.75" />
<line x1="267.43" y1="77" x2="267.43" y2="79" stroke="#000" stroke-width="0.75" />
<line x1="221.6" y1="77" x2="221.6" y2="79" stroke="#000" stroke-width="0.75" />
<line x1="223.1" y1="77" x2="223.1" y2="79" stroke="#000" stroke-width="0.75" />
<line x1="227.1" y1="77" x2="227.1" y2="79" stroke="#000" stroke-width="0.75" />
<line x1="228.8" y1="77" x2="228.8" y2="79" stroke="#000" stroke-width="0.75" />
<text x="213.7" y="29.55" font-size="5.5" text-anchor="end" fill="#1a1a1a">10<tspan font-size="3.96" dy="-2.31">5</tspan></text>
<text x="213.7" y="42.25" font-size="5.5" text-anchor="end" fill="#1a1a1a">10<tspan font-size="3.96" dy="-2.31">4</tspan></text>
<text x="213.7" y="54.95" font-size="5.5" text-anchor="end" fill="#1a1a1a">10<tspan font-size="3.96" dy="-2.31">3</tspan></text>
<text x="213.7" y="67.65" font-size="5.5" text-anchor="end" fill="#1a1a1a">10<tspan font-size="3.96" dy="-2.31">2</tspan></text>
<text x="213.5" y="73.2" font-size="5.5" text-anchor="end" fill="#1a1a1a" >0</text>
<text x="225.1" y="87.8" font-size="5.5" text-anchor="middle" fill="#1a1a1a" >0</text>
<text x="231.9" y="87.8" font-size="5.5" text-anchor="middle" fill="#1a1a1a">10<tspan font-size="3.96" dy="-2.31">2</tspan></text>
<text x="244.4" y="87.8" font-size="5.5" text-anchor="middle" fill="#1a1a1a">10<tspan font-size="3.96" dy="-2.31">3</tspan></text>
<text x="256.5" y="87.8" font-size="5.5" text-anchor="middle" fill="#1a1a1a">10<tspan font-size="3.96" dy="-2.31">4</tspan></text>
<text x="268.9" y="87.8" font-size="5.5" text-anchor="middle" fill="#1a1a1a">10<tspan font-size="3.96" dy="-2.31">5</tspan></text>
<text x="224.2" y="29.9" font-size="6.2" text-anchor="start" fill="#1a1a1a" >57</text>
<g filter="url(#bl)">
<path d="M94.6,136.64 93.8,136.75 92.8,136.77 90.2,136.46 88.6,136.04 88,135.76 87.4,135.35 86.86,134.8 86.4,134.16 85.54,132.4 84.92,130 84.6,128 84.62,126.8 84.82,125.8 85.09,125 86.2,122.5 86.8,120.28 87.2,117.78 87.87,111.4 88.46,108.6 88.89,107 89.53,105.4 90.4,104.1 90.8,103.7 91.4,103.3 91.8,103.15 92.4,103.07 94,103.15 96.8,103.56 97.8,103.82 98.51,104.2 99.07,104.8 99.47,105.6 100.11,107.6 100.32,109 100.28,112.4 99.61,120 99.54,121.6 99.61,123.6 100.14,126.4 100.13,127.2 99.95,128.2 99.49,130 99.07,131.2 98.34,132.8 97.44,134.4 96.8,135.28 96.2,135.88 95.4,136.38 94.6,136.64Z" fill="#0a22ee"/>
<path d="M94.2,134.01 92.8,134.13 91.2,133.97 90.4,133.73 88.6,133.01 87.8,132.58 87.3,132 86.98,131.2 86.5,127.8 86.51,127 86.64,126.2 87.6,123.06 88.2,120.05 88.5,118 89.1,112.6 89.6,110.35 90.2,108.67 90.85,107.6 91.26,107.2 91.8,106.88 92.8,106.67 93.8,106.71 96,106.97 96.8,107.16 97.4,107.48 98,108.07 98.4,108.8 98.69,109.8 98.85,111.2 98.8,114 98.21,121.4 98.22,123.6 98.44,126.2 98.25,127.8 97.65,130.2 97.26,131.2 96.72,132.2 96.2,132.88 95.6,133.42 95,133.76 94.2,134.01Z" fill="#1e6cf6"/>
<path d="M92.8,133.01 91.6,132.93 90.6,132.68 89.2,132.09 88.4,131.55 87.98,131 87.61,130 87.31,128.4 87.26,127.2 87.47,125.8 88.39,122.8 89.03,120 89.32,118.2 89.68,114.6 90.02,112.8 90.4,111.38 90.99,110 91.6,109.25 92.4,108.82 93.4,108.71 95.4,109.06 96.6,109.5 97,109.82 97.29,110.2 97.68,111.2 97.84,112.2 97.87,113.4 97.41,121.4 97.66,126.4 97.5,127.8 97.13,129.4 96.76,130.4 96.19,131.4 95.6,132.06 94.8,132.59 93.8,132.91 92.8,133.01Z" fill="#5cd8f4"/>
<path d="M93.8,131.84 92.8,131.99 91.6,131.91 90.6,131.63 89.6,131.12 89,130.59 88.5,129.8 88.18,128.8 88.02,127.8 88.08,126.4 88.42,125 89.2,122.94 90.45,120 90.84,118.8 90.92,117.8 90.63,116 90.75,115 91,114.43 91.4,113.9 92,113.47 92.4,113.36 92.8,113.48 93.04,113.8 93.51,115.8 93.8,116.44 94.2,116.87 95.4,117.54 95.7,118 96.04,120.8 96.6,123.86 96.83,125.6 96.86,126.6 96.74,127.8 96.52,128.8 96.15,129.8 95.66,130.6 95.2,131.1 94.6,131.52 93.8,131.84Z" fill="#8aec50"/>
<path d="M93.6,130.85 93,130.98 92.2,130.97 91.4,130.79 90.8,130.54 90.2,130.16 89.64,129.6 89.27,129 89.04,128.4 88.88,127.6 88.85,126.8 88.98,125.8 89.23,125 89.6,124.23 90,123.68 90.6,123.14 91.2,122.85 91.8,122.73 92.6,122.75 93.4,122.91 94.2,123.24 94.6,123.51 95.07,124 95.4,124.53 95.67,125.2 95.86,126 95.93,127 95.83,128 95.61,128.8 95.21,129.6 94.8,130.11 94.2,130.59 93.6,130.85Z" fill="#c4ee3a"/>
<path d="M93.2,130.23 92.2,130.25 91.6,130.08 91.05,129.8 90.6,129.45 90.2,129 89.67,128 89.46,126.8 89.53,126 89.69,125.4 90.2,124.51 90.6,124.16 91,123.95 91.6,123.82 92.2,123.83 92.8,123.96 93.4,124.2 94,124.57 94.4,124.95 94.73,125.4 95.01,126 95.16,126.6 95.21,127.4 95.09,128.2 94.87,128.8 94.6,129.27 94.2,129.72 93.8,130 93.2,130.23Z" fill="#f4ea20"/>
<path d="M93,129.44 92.2,129.43 91.4,129.05 90.78,128.4 90.34,127.6 90.14,126.6 90.23,125.8 90.6,125.13 91.2,124.73 92,124.66 93,125.01 93.73,125.6 94.22,126.4 94.4,127.4 94.2,128.37 93.78,129 93.4,129.29 93,129.44Z" fill="#fa9418"/>
<path d="M93.2,128.81 92.6,128.98 92,128.85 91.4,128.43 90.91,127.8 90.59,127 90.54,126.2 90.75,125.6 91.2,125.19 91.8,125.07 92.4,125.2 93.08,125.6 93.6,126.2 93.86,126.8 93.92,127.6 93.83,128 93.63,128.4 93.2,128.81Z" fill="#e82012"/>
</g>
<path d="M82.7,98.4 V119.4 H104.4 V98.4" fill="none" stroke="#5c5c5c" stroke-width="0.9"/>
<rect x="61" y="98.4" width="54.2" height="54.5" fill="none" stroke="#3a3a3a" stroke-width="0.9"/>
<line x1="61" y1="98" x2="61" y2="153.5" stroke="#000" stroke-width="1.3" />
<line x1="60.4" y1="152.9" x2="115.6" y2="152.9" stroke="#000" stroke-width="1.3" />
<line x1="57.8" y1="103.8" x2="61" y2="103.8" stroke="#000" stroke-width="1.1" />
<line x1="59" y1="112.68" x2="61" y2="112.68" stroke="#000" stroke-width="0.75" />
<line x1="59" y1="110.44" x2="61" y2="110.44" stroke="#000" stroke-width="0.75" />
<line x1="59" y1="108.85" x2="61" y2="108.85" stroke="#000" stroke-width="0.75" />
<line x1="59" y1="107.62" x2="61" y2="107.62" stroke="#000" stroke-width="0.75" />
<line x1="59" y1="106.62" x2="61" y2="106.62" stroke="#000" stroke-width="0.75" />
<line x1="59" y1="105.77" x2="61" y2="105.77" stroke="#000" stroke-width="0.75" />
<line x1="59" y1="105.03" x2="61" y2="105.03" stroke="#000" stroke-width="0.75" />
<line x1="59" y1="104.38" x2="61" y2="104.38" stroke="#000" stroke-width="0.75" />
<line x1="57.8" y1="116.5" x2="61" y2="116.5" stroke="#000" stroke-width="1.1" />
<line x1="59" y1="125.38" x2="61" y2="125.38" stroke="#000" stroke-width="0.75" />
<line x1="59" y1="123.14" x2="61" y2="123.14" stroke="#000" stroke-width="0.75" />
<line x1="59" y1="121.55" x2="61" y2="121.55" stroke="#000" stroke-width="0.75" />
<line x1="59" y1="120.32" x2="61" y2="120.32" stroke="#000" stroke-width="0.75" />
<line x1="59" y1="119.32" x2="61" y2="119.32" stroke="#000" stroke-width="0.75" />
<line x1="59" y1="118.47" x2="61" y2="118.47" stroke="#000" stroke-width="0.75" />
<line x1="59" y1="117.73" x2="61" y2="117.73" stroke="#000" stroke-width="0.75" />
<line x1="59" y1="117.08" x2="61" y2="117.08" stroke="#000" stroke-width="0.75" />
<line x1="57.8" y1="129.2" x2="61" y2="129.2" stroke="#000" stroke-width="1.1" />
<line x1="59" y1="138.08" x2="61" y2="138.08" stroke="#000" stroke-width="0.75" />
<line x1="59" y1="135.84" x2="61" y2="135.84" stroke="#000" stroke-width="0.75" />
<line x1="59" y1="134.25" x2="61" y2="134.25" stroke="#000" stroke-width="0.75" />
<line x1="59" y1="133.02" x2="61" y2="133.02" stroke="#000" stroke-width="0.75" />
<line x1="59" y1="132.02" x2="61" y2="132.02" stroke="#000" stroke-width="0.75" />
<line x1="59" y1="131.17" x2="61" y2="131.17" stroke="#000" stroke-width="0.75" />
<line x1="59" y1="130.43" x2="61" y2="130.43" stroke="#000" stroke-width="0.75" />
<line x1="59" y1="129.78" x2="61" y2="129.78" stroke="#000" stroke-width="0.75" />
<line x1="57.8" y1="141.9" x2="61" y2="141.9" stroke="#000" stroke-width="1.1" />
<line x1="57.8" y1="147.4" x2="61" y2="147.4" stroke="#000" stroke-width="1.1" />
<line x1="59" y1="144.6" x2="61" y2="144.6" stroke="#000" stroke-width="0.75" />
<line x1="59" y1="146" x2="61" y2="146" stroke="#000" stroke-width="0.75" />
<line x1="59" y1="149.4" x2="61" y2="149.4" stroke="#000" stroke-width="0.75" />
<line x1="59" y1="151" x2="61" y2="151" stroke="#000" stroke-width="0.75" />
<line x1="66.5" y1="152.9" x2="66.5" y2="156.1" stroke="#000" stroke-width="1.1" />
<line x1="72.3" y1="152.9" x2="72.3" y2="156.1" stroke="#000" stroke-width="1.1" />
<line x1="84.8" y1="152.9" x2="84.8" y2="156.1" stroke="#000" stroke-width="1.1" />
<line x1="96.9" y1="152.9" x2="96.9" y2="156.1" stroke="#000" stroke-width="1.1" />
<line x1="109.3" y1="152.9" x2="109.3" y2="156.1" stroke="#000" stroke-width="1.1" />
<line x1="76.06" y1="152.9" x2="76.06" y2="154.9" stroke="#000" stroke-width="0.75" />
<line x1="78.26" y1="152.9" x2="78.26" y2="154.9" stroke="#000" stroke-width="0.75" />
<line x1="79.83" y1="152.9" x2="79.83" y2="154.9" stroke="#000" stroke-width="0.75" />
<line x1="81.04" y1="152.9" x2="81.04" y2="154.9" stroke="#000" stroke-width="0.75" />
<line x1="82.03" y1="152.9" x2="82.03" y2="154.9" stroke="#000" stroke-width="0.75" />
<line x1="82.86" y1="152.9" x2="82.86" y2="154.9" stroke="#000" stroke-width="0.75" />
<line x1="83.59" y1="152.9" x2="83.59" y2="154.9" stroke="#000" stroke-width="0.75" />
<line x1="84.23" y1="152.9" x2="84.23" y2="154.9" stroke="#000" stroke-width="0.75" />
<line x1="88.56" y1="152.9" x2="88.56" y2="154.9" stroke="#000" stroke-width="0.75" />
<line x1="90.76" y1="152.9" x2="90.76" y2="154.9" stroke="#000" stroke-width="0.75" />
<line x1="92.33" y1="152.9" x2="92.33" y2="154.9" stroke="#000" stroke-width="0.75" />
<line x1="93.54" y1="152.9" x2="93.54" y2="154.9" stroke="#000" stroke-width="0.75" />
<line x1="94.53" y1="152.9" x2="94.53" y2="154.9" stroke="#000" stroke-width="0.75" />
<line x1="95.36" y1="152.9" x2="95.36" y2="154.9" stroke="#000" stroke-width="0.75" />
<line x1="96.09" y1="152.9" x2="96.09" y2="154.9" stroke="#000" stroke-width="0.75" />
<line x1="96.73" y1="152.9" x2="96.73" y2="154.9" stroke="#000" stroke-width="0.75" />
<line x1="100.66" y1="152.9" x2="100.66" y2="154.9" stroke="#000" stroke-width="0.75" />
<line x1="102.86" y1="152.9" x2="102.86" y2="154.9" stroke="#000" stroke-width="0.75" />
<line x1="104.43" y1="152.9" x2="104.43" y2="154.9" stroke="#000" stroke-width="0.75" />
<line x1="105.64" y1="152.9" x2="105.64" y2="154.9" stroke="#000" stroke-width="0.75" />
<line x1="106.63" y1="152.9" x2="106.63" y2="154.9" stroke="#000" stroke-width="0.75" />
<line x1="107.46" y1="152.9" x2="107.46" y2="154.9" stroke="#000" stroke-width="0.75" />
<line x1="108.19" y1="152.9" x2="108.19" y2="154.9" stroke="#000" stroke-width="0.75" />
<line x1="108.83" y1="152.9" x2="108.83" y2="154.9" stroke="#000" stroke-width="0.75" />
<line x1="63" y1="152.9" x2="63" y2="154.9" stroke="#000" stroke-width="0.75" />
<line x1="64.5" y1="152.9" x2="64.5" y2="154.9" stroke="#000" stroke-width="0.75" />
<line x1="68.5" y1="152.9" x2="68.5" y2="154.9" stroke="#000" stroke-width="0.75" />
<line x1="70.2" y1="152.9" x2="70.2" y2="154.9" stroke="#000" stroke-width="0.75" />
<text x="55.1" y="105.45" font-size="5.5" text-anchor="end" fill="#1a1a1a">10<tspan font-size="3.96" dy="-2.31">5</tspan></text>
<text x="55.1" y="118.15" font-size="5.5" text-anchor="end" fill="#1a1a1a">10<tspan font-size="3.96" dy="-2.31">4</tspan></text>
<text x="55.1" y="130.85" font-size="5.5" text-anchor="end" fill="#1a1a1a">10<tspan font-size="3.96" dy="-2.31">3</tspan></text>
<text x="55.1" y="143.55" font-size="5.5" text-anchor="end" fill="#1a1a1a">10<tspan font-size="3.96" dy="-2.31">2</tspan></text>
<text x="54.9" y="149.1" font-size="5.5" text-anchor="end" fill="#1a1a1a" >0</text>
<text x="66.5" y="163.7" font-size="5.5" text-anchor="middle" fill="#1a1a1a" >0</text>
<text x="73.3" y="163.7" font-size="5.5" text-anchor="middle" fill="#1a1a1a">10<tspan font-size="3.96" dy="-2.31">2</tspan></text>
<text x="85.8" y="163.7" font-size="5.5" text-anchor="middle" fill="#1a1a1a">10<tspan font-size="3.96" dy="-2.31">3</tspan></text>
<text x="97.9" y="163.7" font-size="5.5" text-anchor="middle" fill="#1a1a1a">10<tspan font-size="3.96" dy="-2.31">4</tspan></text>
<text x="110.3" y="163.7" font-size="5.5" text-anchor="middle" fill="#1a1a1a">10<tspan font-size="3.96" dy="-2.31">5</tspan></text>
<text x="65.6" y="105.8" font-size="6.2" text-anchor="start" fill="#1a1a1a" >28</text>
<g filter="url(#bl)">
<path d="M173.1,135.21 171.9,135.28 170.7,135.1 169.7,134.74 168.7,134.15 167.7,133.24 166.3,131.54 165.9,130.8 165.77,130 165.86,129.4 166.28,128 166.79,125.2 166.75,122.4 167.57,111.8 167.78,109.6 167.97,108.8 168.4,107.8 168.97,106.8 169.5,106.12 170.1,105.58 170.9,105.07 171.9,104.65 172.7,104.47 173.7,104.42 174.7,104.5 175.7,104.71 176.5,105.04 177.1,105.41 177.9,106.15 179.48,108 179.83,108.6 179.94,109.2 179.66,111 179.55,113 179.05,115.6 179.01,118.4 178.62,125.4 178.39,127.8 177.97,130.6 177.65,131.6 177.2,132.6 176.79,133.4 176.3,134.06 175.9,134.38 175.3,134.68 173.1,135.21ZM173.1,140.26 172.9,140.36 172.5,140.29 172.32,140 172.39,139.8 172.7,139.63 173.1,139.73 173.25,140 173.1,140.26Z" fill="#0a22ee"/>
<path d="M173.1,133.42 172.3,133.5 171.7,133.47 170.9,133.29 170.25,133 169.5,132.47 168.3,131.26 167.4,130.6 167.23,130.4 167.17,130 167.78,129 167.95,128.6 168.26,126.8 168.71,125 168.86,123.2 168.7,118.8 168.99,116.4 169.54,110 169.75,109 170,108.4 170.5,107.64 170.92,107.2 171.5,106.77 172.1,106.46 172.9,106.21 173.9,106.05 174.9,106.02 175.5,106.13 175.9,106.3 176.31,106.6 176.68,107 177.6,108.6 177.83,109.2 177.95,109.8 177.96,110.6 177.65,114 177.55,116.8 177.11,120.4 177.03,125 176.79,127.2 176.37,129.8 176.16,130.6 175.84,131.4 175.3,132.47 174.9,132.9 174.3,133.15 173.1,133.42Z" fill="#1e6cf6"/>
<path d="M172.5,132.62 171.5,132.52 171.1,132.37 170.53,132 169.46,130.8 169.11,130.2 168.98,129.8 168.97,128 169.08,127 169.29,126.4 169.9,125.26 170.5,123.83 170.9,121.4 170.85,121 170.7,120.68 169.9,119.98 169.62,119.6 169.5,119.2 169.48,118.6 169.85,116.4 170.37,110 170.63,109 170.9,108.51 171.3,108.01 172.1,107.4 172.7,107.13 173.7,106.85 174.5,106.67 175.1,106.65 175.7,106.87 176.19,107.4 176.84,109 177.08,110.2 176.85,113.4 177,115.6 176.98,116.6 176.75,118.2 176.28,119.6 176.2,120.2 176.41,124 176.36,125.4 175.78,128.8 175.43,130.2 175.1,130.95 174.66,131.6 174.1,132.1 173.3,132.46 172.5,132.62Z" fill="#5cd8f4"/>
<path d="M172.9,131.62 172.3,131.69 171.9,131.63 171.3,131.34 170.9,130.96 170.62,130.6 170.32,130 169.96,128.4 169.87,127.6 169.95,127 171.12,123.8 171.61,121.2 171.43,120.4 170.56,119.2 170.42,118.6 170.77,116.6 171.25,110.2 171.43,109.4 171.9,108.63 172.5,108.13 173.5,107.72 174.9,107.4 175.3,107.54 175.52,107.8 176.13,109.8 176.17,110.4 175.98,112.2 175.96,113.2 176.5,115.8 176.45,116.8 176.21,117.8 175.93,118.4 175.4,119.2 175.21,119.8 175.44,121.8 175.86,124 175.86,125.2 175.37,127.8 174.63,130 174.3,130.59 173.9,131.05 173.5,131.36 172.9,131.62Z" fill="#8aec50"/>
<path d="M172.5,130.85 172.1,130.87 171.7,130.75 171.3,130.47 170.97,130 170.8,129.4 170.68,127.2 170.77,126.6 171.21,125 172.39,121.6 172.53,121 172.54,120.4 172.1,118.36 171.89,116.4 172.05,115 172.8,112.6 172.78,112 172.35,110.4 172.34,109.8 172.58,109.2 172.98,108.8 173.5,108.56 174.1,108.51 174.5,108.63 174.71,108.8 174.97,109.2 175.13,109.8 175.03,110.6 174.36,112.2 174.4,112.8 175.63,114.6 175.89,115.2 176.02,115.8 175.99,116.6 175.7,117.46 175.3,117.99 174.08,119 173.85,119.4 173.79,119.8 173.87,120.4 174.18,121.4 175.24,123.6 175.38,124.2 175.4,125 175.02,127 174.5,128.47 173.51,130.2 173.08,130.6 172.5,130.85Z" fill="#c4ee3a"/>
<path d="M173.7,110.41 173.3,110.21 173.17,109.8 173.37,109.4 173.7,109.25 173.9,109.26 174.1,109.35 174.29,109.6 174.3,109.98 174.1,110.28 173.7,110.41ZM174.5,117.86 173.9,117.95 173.3,117.74 172.83,117.2 172.61,116.6 172.58,115.8 172.82,115 173.3,114.39 173.9,114.11 174.5,114.19 175.09,114.6 175.49,115.2 175.67,115.8 175.66,116.4 175.47,117 175.1,117.5 174.5,117.86ZM172.3,130.42 171.9,130.39 171.57,130.2 171.38,130 171.19,129.6 171.15,129.2 171.25,128.2 171.16,127 171.22,126.4 171.67,124.6 172.3,123.14 172.5,122.84 172.9,122.47 173.3,122.35 173.5,122.37 173.9,122.54 174.3,122.86 174.82,123.6 175.05,124.4 175.03,125.4 174.65,127 174.25,128 173.04,130 172.7,130.29 172.3,130.42Z" fill="#f4ea20"/>
<path d="M174.3,117.22 173.9,117.17 173.62,117 173.32,116.6 173.21,116.2 173.27,115.6 173.48,115.2 173.7,114.98 174.1,114.82 174.5,114.86 174.9,115.14 175.18,115.6 175.25,116 175.21,116.4 175.02,116.8 174.7,117.09 174.3,117.22ZM172.3,129.89 171.9,129.85 171.7,129.65 171.62,129.4 171.65,129 171.89,128.2 171.65,126.8 171.74,125.8 172.06,124.6 172.5,123.73 172.9,123.33 173.5,123.18 174.1,123.45 174.5,123.96 174.68,124.6 174.65,125.4 174.35,126.6 174.04,127.4 173.7,127.92 173.08,128.6 172.67,129.6 172.3,129.89Z" fill="#fa9418"/>
<path d="M174.3,116.81 174.1,116.79 173.8,116.6 173.66,116.4 173.58,116 173.67,115.6 173.82,115.4 174.1,115.23 174.3,115.21 174.7,115.41 174.9,115.75 174.94,116 174.9,116.3 174.73,116.6 174.3,116.81ZM172.9,128.03 172.7,128.06 172.5,127.99 172.1,127.4 171.94,126.8 171.96,126 172.16,125 172.5,124.2 172.9,123.73 173.1,123.61 173.5,123.54 173.9,123.69 174.3,124.15 174.45,124.6 174.46,125.2 174.23,126.2 173.83,127.2 173.5,127.65 172.9,128.03Z" fill="#e82012"/>
</g>
<path d="M162,98.4 V119.4 H183.7 V98.4" fill="none" stroke="#5c5c5c" stroke-width="0.9"/>
<rect x="140.3" y="98.4" width="54.2" height="54.5" fill="none" stroke="#3a3a3a" stroke-width="0.9"/>
<line x1="140.3" y1="98" x2="140.3" y2="153.5" stroke="#000" stroke-width="1.3" />
<line x1="139.7" y1="152.9" x2="194.9" y2="152.9" stroke="#000" stroke-width="1.3" />
<line x1="137.1" y1="103.8" x2="140.3" y2="103.8" stroke="#000" stroke-width="1.1" />
<line x1="138.3" y1="112.68" x2="140.3" y2="112.68" stroke="#000" stroke-width="0.75" />
<line x1="138.3" y1="110.44" x2="140.3" y2="110.44" stroke="#000" stroke-width="0.75" />
<line x1="138.3" y1="108.85" x2="140.3" y2="108.85" stroke="#000" stroke-width="0.75" />
<line x1="138.3" y1="107.62" x2="140.3" y2="107.62" stroke="#000" stroke-width="0.75" />
<line x1="138.3" y1="106.62" x2="140.3" y2="106.62" stroke="#000" stroke-width="0.75" />
<line x1="138.3" y1="105.77" x2="140.3" y2="105.77" stroke="#000" stroke-width="0.75" />
<line x1="138.3" y1="105.03" x2="140.3" y2="105.03" stroke="#000" stroke-width="0.75" />
<line x1="138.3" y1="104.38" x2="140.3" y2="104.38" stroke="#000" stroke-width="0.75" />
<line x1="137.1" y1="116.5" x2="140.3" y2="116.5" stroke="#000" stroke-width="1.1" />
<line x1="138.3" y1="125.38" x2="140.3" y2="125.38" stroke="#000" stroke-width="0.75" />
<line x1="138.3" y1="123.14" x2="140.3" y2="123.14" stroke="#000" stroke-width="0.75" />
<line x1="138.3" y1="121.55" x2="140.3" y2="121.55" stroke="#000" stroke-width="0.75" />
<line x1="138.3" y1="120.32" x2="140.3" y2="120.32" stroke="#000" stroke-width="0.75" />
<line x1="138.3" y1="119.32" x2="140.3" y2="119.32" stroke="#000" stroke-width="0.75" />
<line x1="138.3" y1="118.47" x2="140.3" y2="118.47" stroke="#000" stroke-width="0.75" />
<line x1="138.3" y1="117.73" x2="140.3" y2="117.73" stroke="#000" stroke-width="0.75" />
<line x1="138.3" y1="117.08" x2="140.3" y2="117.08" stroke="#000" stroke-width="0.75" />
<line x1="137.1" y1="129.2" x2="140.3" y2="129.2" stroke="#000" stroke-width="1.1" />
<line x1="138.3" y1="138.08" x2="140.3" y2="138.08" stroke="#000" stroke-width="0.75" />
<line x1="138.3" y1="135.84" x2="140.3" y2="135.84" stroke="#000" stroke-width="0.75" />
<line x1="138.3" y1="134.25" x2="140.3" y2="134.25" stroke="#000" stroke-width="0.75" />
<line x1="138.3" y1="133.02" x2="140.3" y2="133.02" stroke="#000" stroke-width="0.75" />
<line x1="138.3" y1="132.02" x2="140.3" y2="132.02" stroke="#000" stroke-width="0.75" />
<line x1="138.3" y1="131.17" x2="140.3" y2="131.17" stroke="#000" stroke-width="0.75" />
<line x1="138.3" y1="130.43" x2="140.3" y2="130.43" stroke="#000" stroke-width="0.75" />
<line x1="138.3" y1="129.78" x2="140.3" y2="129.78" stroke="#000" stroke-width="0.75" />
<line x1="137.1" y1="141.9" x2="140.3" y2="141.9" stroke="#000" stroke-width="1.1" />
<line x1="137.1" y1="147.4" x2="140.3" y2="147.4" stroke="#000" stroke-width="1.1" />
<line x1="138.3" y1="144.6" x2="140.3" y2="144.6" stroke="#000" stroke-width="0.75" />
<line x1="138.3" y1="146" x2="140.3" y2="146" stroke="#000" stroke-width="0.75" />
<line x1="138.3" y1="149.4" x2="140.3" y2="149.4" stroke="#000" stroke-width="0.75" />
<line x1="138.3" y1="151" x2="140.3" y2="151" stroke="#000" stroke-width="0.75" />
<line x1="145.8" y1="152.9" x2="145.8" y2="156.1" stroke="#000" stroke-width="1.1" />
<line x1="151.6" y1="152.9" x2="151.6" y2="156.1" stroke="#000" stroke-width="1.1" />
<line x1="164.1" y1="152.9" x2="164.1" y2="156.1" stroke="#000" stroke-width="1.1" />
<line x1="176.2" y1="152.9" x2="176.2" y2="156.1" stroke="#000" stroke-width="1.1" />
<line x1="188.6" y1="152.9" x2="188.6" y2="156.1" stroke="#000" stroke-width="1.1" />
<line x1="155.36" y1="152.9" x2="155.36" y2="154.9" stroke="#000" stroke-width="0.75" />
<line x1="157.56" y1="152.9" x2="157.56" y2="154.9" stroke="#000" stroke-width="0.75" />
<line x1="159.13" y1="152.9" x2="159.13" y2="154.9" stroke="#000" stroke-width="0.75" />
<line x1="160.34" y1="152.9" x2="160.34" y2="154.9" stroke="#000" stroke-width="0.75" />
<line x1="161.33" y1="152.9" x2="161.33" y2="154.9" stroke="#000" stroke-width="0.75" />
<line x1="162.16" y1="152.9" x2="162.16" y2="154.9" stroke="#000" stroke-width="0.75" />
<line x1="162.89" y1="152.9" x2="162.89" y2="154.9" stroke="#000" stroke-width="0.75" />
<line x1="163.53" y1="152.9" x2="163.53" y2="154.9" stroke="#000" stroke-width="0.75" />
<line x1="167.86" y1="152.9" x2="167.86" y2="154.9" stroke="#000" stroke-width="0.75" />
<line x1="170.06" y1="152.9" x2="170.06" y2="154.9" stroke="#000" stroke-width="0.75" />
<line x1="171.63" y1="152.9" x2="171.63" y2="154.9" stroke="#000" stroke-width="0.75" />
<line x1="172.84" y1="152.9" x2="172.84" y2="154.9" stroke="#000" stroke-width="0.75" />
<line x1="173.83" y1="152.9" x2="173.83" y2="154.9" stroke="#000" stroke-width="0.75" />
<line x1="174.66" y1="152.9" x2="174.66" y2="154.9" stroke="#000" stroke-width="0.75" />
<line x1="175.39" y1="152.9" x2="175.39" y2="154.9" stroke="#000" stroke-width="0.75" />
<line x1="176.03" y1="152.9" x2="176.03" y2="154.9" stroke="#000" stroke-width="0.75" />
<line x1="179.96" y1="152.9" x2="179.96" y2="154.9" stroke="#000" stroke-width="0.75" />
<line x1="182.16" y1="152.9" x2="182.16" y2="154.9" stroke="#000" stroke-width="0.75" />
<line x1="183.73" y1="152.9" x2="183.73" y2="154.9" stroke="#000" stroke-width="0.75" />
<line x1="184.94" y1="152.9" x2="184.94" y2="154.9" stroke="#000" stroke-width="0.75" />
<line x1="185.93" y1="152.9" x2="185.93" y2="154.9" stroke="#000" stroke-width="0.75" />
<line x1="186.76" y1="152.9" x2="186.76" y2="154.9" stroke="#000" stroke-width="0.75" />
<line x1="187.49" y1="152.9" x2="187.49" y2="154.9" stroke="#000" stroke-width="0.75" />
<line x1="188.13" y1="152.9" x2="188.13" y2="154.9" stroke="#000" stroke-width="0.75" />
<line x1="142.3" y1="152.9" x2="142.3" y2="154.9" stroke="#000" stroke-width="0.75" />
<line x1="143.8" y1="152.9" x2="143.8" y2="154.9" stroke="#000" stroke-width="0.75" />
<line x1="147.8" y1="152.9" x2="147.8" y2="154.9" stroke="#000" stroke-width="0.75" />
<line x1="149.5" y1="152.9" x2="149.5" y2="154.9" stroke="#000" stroke-width="0.75" />
<text x="134.4" y="105.45" font-size="5.5" text-anchor="end" fill="#1a1a1a">10<tspan font-size="3.96" dy="-2.31">5</tspan></text>
<text x="134.4" y="118.15" font-size="5.5" text-anchor="end" fill="#1a1a1a">10<tspan font-size="3.96" dy="-2.31">4</tspan></text>
<text x="134.4" y="130.85" font-size="5.5" text-anchor="end" fill="#1a1a1a">10<tspan font-size="3.96" dy="-2.31">3</tspan></text>
<text x="134.4" y="143.55" font-size="5.5" text-anchor="end" fill="#1a1a1a">10<tspan font-size="3.96" dy="-2.31">2</tspan></text>
<text x="134.2" y="149.1" font-size="5.5" text-anchor="end" fill="#1a1a1a" >0</text>
<text x="145.8" y="163.7" font-size="5.5" text-anchor="middle" fill="#1a1a1a" >0</text>
<text x="152.6" y="163.7" font-size="5.5" text-anchor="middle" fill="#1a1a1a">10<tspan font-size="3.96" dy="-2.31">2</tspan></text>
<text x="165.1" y="163.7" font-size="5.5" text-anchor="middle" fill="#1a1a1a">10<tspan font-size="3.96" dy="-2.31">3</tspan></text>
<text x="177.2" y="163.7" font-size="5.5" text-anchor="middle" fill="#1a1a1a">10<tspan font-size="3.96" dy="-2.31">4</tspan></text>
<text x="189.6" y="163.7" font-size="5.5" text-anchor="middle" fill="#1a1a1a">10<tspan font-size="3.96" dy="-2.31">5</tspan></text>
<text x="144.9" y="105.8" font-size="6.2" text-anchor="start" fill="#1a1a1a" >38</text>
<g filter="url(#bl)">
<path d="M252,135.62 250.6,135.76 248.6,135.62 247.4,135.28 246.35,134.6 245.97,134.2 245.55,133.6 244.92,132.2 244.07,129.8 243.92,129 243.85,128 243.88,127.2 244.06,126.2 245.4,120.37 246.23,115.8 246.64,114 246.89,112 247.45,110 247.6,107 247.7,106.4 248.27,105.2 248.75,104.6 249.19,104.2 250.2,103.65 250.8,103.49 251.4,103.43 252.6,103.57 253.2,103.78 253.8,104.11 254.6,104.81 255.23,105.8 255.53,106.8 256,110.91 256.7,116 257,116.8 257.95,118 258.29,118.6 258.5,119.2 258.58,119.8 258.55,120.4 258.4,121 258.09,121.6 257.51,122.4 257.38,122.8 257.48,123.4 257.91,124.4 258.14,125.2 258.53,127.6 258.39,129.2 257.91,130.8 257.52,131.6 256.87,132.6 255.2,134.43 254.6,134.83 254,135.07 252,135.62Z" fill="#0a22ee"/>
<path d="M249.8,134.02 248.8,134.13 247.8,133.97 247.14,133.6 246.62,133 246.31,132.2 246.14,130.6 245.79,129.2 245.73,127.8 246.23,124.8 246.42,122.8 247.2,120.49 247.89,116.2 248.54,114 248.47,112.2 248.94,110 248.87,108 248.95,106.8 249.23,106 249.8,105.25 250.4,104.9 251,104.83 251.53,105 252.2,105.56 253,105.72 253.4,105.88 253.91,106.4 254.15,107 254.59,111.2 254.99,113.4 254.94,115.2 255.02,117 254.72,118.6 254.71,119.2 255,119.94 255.8,120.8 255.82,121.2 255.67,122.2 255.7,123 256.38,125.8 256.63,127.4 256.63,128 256.44,129.2 255.99,130.4 255.36,131.4 254.44,132.4 253.8,132.86 252.8,133.32 249.8,134.02Z" fill="#1e6cf6"/>
<path d="M249,133.44 248.4,133.48 247.8,133.36 247.24,133 246.97,132.6 246.81,131.8 246.91,130.2 246.63,128.6 246.6,127.6 247.08,124.8 247.09,123 247.27,122.4 247.81,121.4 248.1,120.6 248.68,116.6 248.86,115.8 249.12,115.2 249.4,114.85 249.8,114.66 250.8,114.46 251.17,114.2 251.29,114 251.32,113.8 251.18,113.4 250.8,113.1 249.8,112.84 249.6,112.71 249.41,112.4 249.35,112 249.59,110 249.49,108 249.53,107 249.74,106.4 250,106.02 250.4,105.78 250.6,105.79 250.8,105.91 251.6,106.8 252,106.98 252.8,107.09 253.1,107.2 253.39,107.6 253.58,108.2 253.77,109.4 253.87,111.4 254.23,113.4 254.1,115.2 254.15,117.2 253.99,118.6 254,119.31 254.15,120 254.67,121.6 254.97,123.4 255.7,126.6 255.84,128 255.67,129 255.28,130 254.64,131 253.8,131.84 253,132.36 252.2,132.68 249,133.44Z" fill="#5cd8f4"/>
<path d="M248.6,132.81 248.2,132.84 247.8,132.72 247.48,132.4 247.37,132 247.76,130.4 247.44,128.4 247.42,127.4 247.97,124.8 248.09,123.2 248.22,122.8 248.8,121.74 249.04,121 249.32,119.4 249.6,116.8 249.82,116 250.14,115.6 250.4,115.42 252.07,114.6 252.48,114.2 252.54,114 252.29,113.4 251.99,113 251.6,112.6 250.6,111.83 250.41,111.4 250.43,109.6 250.3,107.8 250.4,107.4 250.6,107.27 252.43,108.2 252.76,108.6 252.98,109.2 253.06,110 252.98,111.4 253.11,113 252.85,114.2 253.27,116.6 253.31,119.4 254.08,123.4 255.12,127 255.21,128 255.06,128.8 254.61,129.8 254,130.66 253.2,131.41 252.6,131.77 252,132.01 249.8,132.4 248.6,132.81Z" fill="#8aec50"/>
<path d="M251.6,131.4 251,131.47 250.2,131.41 249.6,131.27 249.15,131 248.89,130.6 248.45,129.4 248.26,128.6 248.2,127.8 248.46,126.4 249.45,123.6 250,121.44 250.44,119.2 250.44,117.4 250.55,116.6 250.94,116 251.2,115.83 251.6,115.73 251.93,115.8 252.17,116 252.4,116.51 252.5,117.2 252.46,119.4 253.2,123.5 253.62,125 254.56,127 254.71,127.8 254.68,128.2 254.49,128.8 254.15,129.4 253.6,130.13 253.14,130.6 252.6,131.01 251.6,131.4Z" fill="#c4ee3a"/>
<path d="M251.6,117.87 251.4,117.89 251.2,117.46 251.2,117.17 251.4,116.8 251.6,116.8 251.78,117.2 251.73,117.6 251.6,117.87ZM251.8,130.84 251.2,130.94 250.6,130.88 250,130.65 249.67,130.4 249.34,130 249.04,129.4 248.85,128.8 248.75,128 248.79,127.4 249.01,126.6 250.07,124 250.8,120.94 251,120.46 251.2,120.15 251.4,120 251.6,120.03 252,120.6 252.31,121.6 252.74,124 253,124.98 253.39,125.8 254.17,127 254.38,127.8 254.2,128.6 253.6,129.48 252.6,130.44 251.8,130.84Z" fill="#f4ea20"/>
<path d="M251.8,130.25 251,130.33 250.6,130.22 250.2,129.98 249.84,129.6 249.61,129.2 249.35,128.2 249.38,127.6 249.54,127 250.48,125 251.17,122.8 251.4,122.46 251.6,122.5 251.8,122.86 252.29,124.8 252.6,125.6 253,126.2 253.8,127.12 254.02,127.8 253.89,128.4 253.6,128.84 252.6,129.78 251.8,130.25Z" fill="#fa9418"/>
<path d="M252,129.8 251.6,129.95 251.2,129.99 250.6,129.81 250.32,129.6 250,129.21 249.72,128.4 249.73,127.6 250,126.8 251,125 251.4,124.52 251.6,124.58 252.58,126.2 253.58,127.2 253.8,127.8 253.73,128.2 253.4,128.71 252.6,129.4 252,129.8Z" fill="#e82012"/>
</g>
<path d="M241.3,98.4 V119.4 H263 V98.4" fill="none" stroke="#5c5c5c" stroke-width="0.9"/>
<rect x="219.6" y="98.4" width="54.2" height="54.5" fill="none" stroke="#3a3a3a" stroke-width="0.9"/>
<line x1="219.6" y1="98" x2="219.6" y2="153.5" stroke="#000" stroke-width="1.3" />
<line x1="219" y1="152.9" x2="274.2" y2="152.9" stroke="#000" stroke-width="1.3" />
<line x1="216.4" y1="103.8" x2="219.6" y2="103.8" stroke="#000" stroke-width="1.1" />
<line x1="217.6" y1="112.68" x2="219.6" y2="112.68" stroke="#000" stroke-width="0.75" />
<line x1="217.6" y1="110.44" x2="219.6" y2="110.44" stroke="#000" stroke-width="0.75" />
<line x1="217.6" y1="108.85" x2="219.6" y2="108.85" stroke="#000" stroke-width="0.75" />
<line x1="217.6" y1="107.62" x2="219.6" y2="107.62" stroke="#000" stroke-width="0.75" />
<line x1="217.6" y1="106.62" x2="219.6" y2="106.62" stroke="#000" stroke-width="0.75" />
<line x1="217.6" y1="105.77" x2="219.6" y2="105.77" stroke="#000" stroke-width="0.75" />
<line x1="217.6" y1="105.03" x2="219.6" y2="105.03" stroke="#000" stroke-width="0.75" />
<line x1="217.6" y1="104.38" x2="219.6" y2="104.38" stroke="#000" stroke-width="0.75" />
<line x1="216.4" y1="116.5" x2="219.6" y2="116.5" stroke="#000" stroke-width="1.1" />
<line x1="217.6" y1="125.38" x2="219.6" y2="125.38" stroke="#000" stroke-width="0.75" />
<line x1="217.6" y1="123.14" x2="219.6" y2="123.14" stroke="#000" stroke-width="0.75" />
<line x1="217.6" y1="121.55" x2="219.6" y2="121.55" stroke="#000" stroke-width="0.75" />
<line x1="217.6" y1="120.32" x2="219.6" y2="120.32" stroke="#000" stroke-width="0.75" />
<line x1="217.6" y1="119.32" x2="219.6" y2="119.32" stroke="#000" stroke-width="0.75" />
<line x1="217.6" y1="118.47" x2="219.6" y2="118.47" stroke="#000" stroke-width="0.75" />
<line x1="217.6" y1="117.73" x2="219.6" y2="117.73" stroke="#000" stroke-width="0.75" />
<line x1="217.6" y1="117.08" x2="219.6" y2="117.08" stroke="#000" stroke-width="0.75" />
<line x1="216.4" y1="129.2" x2="219.6" y2="129.2" stroke="#000" stroke-width="1.1" />
<line x1="217.6" y1="138.08" x2="219.6" y2="138.08" stroke="#000" stroke-width="0.75" />
<line x1="217.6" y1="135.84" x2="219.6" y2="135.84" stroke="#000" stroke-width="0.75" />
<line x1="217.6" y1="134.25" x2="219.6" y2="134.25" stroke="#000" stroke-width="0.75" />
<line x1="217.6" y1="133.02" x2="219.6" y2="133.02" stroke="#000" stroke-width="0.75" />
<line x1="217.6" y1="132.02" x2="219.6" y2="132.02" stroke="#000" stroke-width="0.75" />
<line x1="217.6" y1="131.17" x2="219.6" y2="131.17" stroke="#000" stroke-width="0.75" />
<line x1="217.6" y1="130.43" x2="219.6" y2="130.43" stroke="#000" stroke-width="0.75" />
<line x1="217.6" y1="129.78" x2="219.6" y2="129.78" stroke="#000" stroke-width="0.75" />
<line x1="216.4" y1="141.9" x2="219.6" y2="141.9" stroke="#000" stroke-width="1.1" />
<line x1="216.4" y1="147.4" x2="219.6" y2="147.4" stroke="#000" stroke-width="1.1" />
<line x1="217.6" y1="144.6" x2="219.6" y2="144.6" stroke="#000" stroke-width="0.75" />
<line x1="217.6" y1="146" x2="219.6" y2="146" stroke="#000" stroke-width="0.75" />
<line x1="217.6" y1="149.4" x2="219.6" y2="149.4" stroke="#000" stroke-width="0.75" />
<line x1="217.6" y1="151" x2="219.6" y2="151" stroke="#000" stroke-width="0.75" />
<line x1="225.1" y1="152.9" x2="225.1" y2="156.1" stroke="#000" stroke-width="1.1" />
<line x1="230.9" y1="152.9" x2="230.9" y2="156.1" stroke="#000" stroke-width="1.1" />
<line x1="243.4" y1="152.9" x2="243.4" y2="156.1" stroke="#000" stroke-width="1.1" />
<line x1="255.5" y1="152.9" x2="255.5" y2="156.1" stroke="#000" stroke-width="1.1" />
<line x1="267.9" y1="152.9" x2="267.9" y2="156.1" stroke="#000" stroke-width="1.1" />
<line x1="234.66" y1="152.9" x2="234.66" y2="154.9" stroke="#000" stroke-width="0.75" />
<line x1="236.86" y1="152.9" x2="236.86" y2="154.9" stroke="#000" stroke-width="0.75" />
<line x1="238.43" y1="152.9" x2="238.43" y2="154.9" stroke="#000" stroke-width="0.75" />
<line x1="239.64" y1="152.9" x2="239.64" y2="154.9" stroke="#000" stroke-width="0.75" />
<line x1="240.63" y1="152.9" x2="240.63" y2="154.9" stroke="#000" stroke-width="0.75" />
<line x1="241.46" y1="152.9" x2="241.46" y2="154.9" stroke="#000" stroke-width="0.75" />
<line x1="242.19" y1="152.9" x2="242.19" y2="154.9" stroke="#000" stroke-width="0.75" />
<line x1="242.83" y1="152.9" x2="242.83" y2="154.9" stroke="#000" stroke-width="0.75" />
<line x1="247.16" y1="152.9" x2="247.16" y2="154.9" stroke="#000" stroke-width="0.75" />
<line x1="249.36" y1="152.9" x2="249.36" y2="154.9" stroke="#000" stroke-width="0.75" />
<line x1="250.93" y1="152.9" x2="250.93" y2="154.9" stroke="#000" stroke-width="0.75" />
<line x1="252.14" y1="152.9" x2="252.14" y2="154.9" stroke="#000" stroke-width="0.75" />
<line x1="253.13" y1="152.9" x2="253.13" y2="154.9" stroke="#000" stroke-width="0.75" />
<line x1="253.96" y1="152.9" x2="253.96" y2="154.9" stroke="#000" stroke-width="0.75" />
<line x1="254.69" y1="152.9" x2="254.69" y2="154.9" stroke="#000" stroke-width="0.75" />
<line x1="255.33" y1="152.9" x2="255.33" y2="154.9" stroke="#000" stroke-width="0.75" />
<line x1="259.26" y1="152.9" x2="259.26" y2="154.9" stroke="#000" stroke-width="0.75" />
<line x1="261.46" y1="152.9" x2="261.46" y2="154.9" stroke="#000" stroke-width="0.75" />
<line x1="263.03" y1="152.9" x2="263.03" y2="154.9" stroke="#000" stroke-width="0.75" />
<line x1="264.24" y1="152.9" x2="264.24" y2="154.9" stroke="#000" stroke-width="0.75" />
<line x1="265.23" y1="152.9" x2="265.23" y2="154.9" stroke="#000" stroke-width="0.75" />
<line x1="266.06" y1="152.9" x2="266.06" y2="154.9" stroke="#000" stroke-width="0.75" />
<line x1="266.79" y1="152.9" x2="266.79" y2="154.9" stroke="#000" stroke-width="0.75" />
<line x1="267.43" y1="152.9" x2="267.43" y2="154.9" stroke="#000" stroke-width="0.75" />
<line x1="221.6" y1="152.9" x2="221.6" y2="154.9" stroke="#000" stroke-width="0.75" />
<line x1="223.1" y1="152.9" x2="223.1" y2="154.9" stroke="#000" stroke-width="0.75" />
<line x1="227.1" y1="152.9" x2="227.1" y2="154.9" stroke="#000" stroke-width="0.75" />
<line x1="228.8" y1="152.9" x2="228.8" y2="154.9" stroke="#000" stroke-width="0.75" />
<text x="213.7" y="105.45" font-size="5.5" text-anchor="end" fill="#1a1a1a">10<tspan font-size="3.96" dy="-2.31">5</tspan></text>
<text x="213.7" y="118.15" font-size="5.5" text-anchor="end" fill="#1a1a1a">10<tspan font-size="3.96" dy="-2.31">4</tspan></text>
<text x="213.7" y="130.85" font-size="5.5" text-anchor="end" fill="#1a1a1a">10<tspan font-size="3.96" dy="-2.31">3</tspan></text>
<text x="213.7" y="143.55" font-size="5.5" text-anchor="end" fill="#1a1a1a">10<tspan font-size="3.96" dy="-2.31">2</tspan></text>
<text x="213.5" y="149.1" font-size="5.5" text-anchor="end" fill="#1a1a1a" >0</text>
<text x="225.1" y="163.7" font-size="5.5" text-anchor="middle" fill="#1a1a1a" >0</text>
<text x="231.9" y="163.7" font-size="5.5" text-anchor="middle" fill="#1a1a1a">10<tspan font-size="3.96" dy="-2.31">2</tspan></text>
<text x="244.4" y="163.7" font-size="5.5" text-anchor="middle" fill="#1a1a1a">10<tspan font-size="3.96" dy="-2.31">3</tspan></text>
<text x="256.5" y="163.7" font-size="5.5" text-anchor="middle" fill="#1a1a1a">10<tspan font-size="3.96" dy="-2.31">4</tspan></text>
<text x="268.9" y="163.7" font-size="5.5" text-anchor="middle" fill="#1a1a1a">10<tspan font-size="3.96" dy="-2.31">5</tspan></text>
<text x="224.2" y="105.8" font-size="6.2" text-anchor="start" fill="#1a1a1a" >35</text>
<g filter="url(#bl)">
<path d="M92.8,214.42 91.4,214.56 90.6,214.48 90,214.32 89,213.91 88,213.38 87.2,212.84 86.71,212.4 86.2,211.8 85.67,211 84.47,208.6 83.78,206.6 83.62,205.8 83.56,205 83.74,203.8 85,200.18 85.4,198.51 85.62,196.6 86.06,188.6 86.69,184.6 87.11,183.2 87.5,182.4 87.94,181.8 88.4,181.36 89,181.01 90.2,180.72 93,180.49 93.8,180.56 95,180.84 95.8,181.12 96.4,181.46 96.81,181.8 97.28,182.4 97.69,183.2 97.96,184 98.32,185.8 98.5,188.2 98.53,191 98.39,196.6 98.47,198.6 98.8,200.47 99.71,203.4 99.94,204.8 100.01,206 99.88,207 99.55,207.8 97.91,210.6 96.8,212.14 96,212.93 95.2,213.47 94,214.05 92.8,214.42Z" fill="#0a22ee"/>
<path d="M92.2,213.01 91.6,213.13 91.2,213.12 90.4,212.83 89.85,212.4 87.33,210 86.65,209 86.21,208 85.87,206.8 85.69,205.4 85.78,203.6 86.61,198.8 86.88,195.8 86.97,193.2 87.23,190 87.53,188 88.16,185.8 88.7,184.8 89.09,184.4 89.6,184.09 90.2,183.9 90.8,183.83 93.6,183.91 94.4,184.01 95,184.17 95.6,184.5 96,184.87 96.37,185.4 96.64,186 97.04,187.6 97.23,189.6 97.26,192 97.15,197 97.21,199 97.35,200.2 97.78,202.2 97.91,203.2 97.87,205 97.69,206.4 97.29,207.8 96.62,209.2 96.06,210 95.4,210.68 93.29,212.4 92.2,213.01Z" fill="#1e6cf6"/>
<path d="M91.8,212.06 91.2,212.05 90.8,211.8 89.74,210.6 88.2,209.44 87.58,208.8 87.08,208 86.69,207 86.46,206 86.38,205 86.5,203.2 87.15,199.6 87.3,197.4 87.61,195.2 87.66,192.6 88.26,188.6 88.64,187.4 89.23,186.4 89.6,186.05 90,185.83 91,185.64 93.6,185.82 94.6,186.03 95,186.24 95.4,186.59 95.8,187.19 96,187.66 96.32,189 96.47,190.6 96.42,196.8 96.49,198.8 96.67,200.2 97.14,202.2 97.25,203.2 97.17,205 96.99,206.2 96.63,207.4 96.13,208.4 95.69,209 95.2,209.5 93.6,210.63 92.3,211.8 91.8,212.06Z" fill="#5cd8f4"/>
<path d="M92.8,209.44 92,209.58 91.2,209.53 89.8,209.09 88.8,208.59 88.13,208 87.6,207.23 87.26,206.4 87.06,205.4 87.02,204.4 87.12,203.4 87.85,200 87.82,197.6 88,196.75 88.62,195 88.69,194.4 88.66,193 88.76,192.2 89.65,189.2 90.02,188.6 90.28,188.4 90.6,188.28 91.2,188.3 93.4,188.66 94,188.82 94.6,189.28 94.98,190 95.2,190.87 95.32,192 95.35,196.4 95.48,198.2 95.83,200.2 96.52,203 96.56,204.2 96.47,205.4 96.23,206.4 95.8,207.4 95.2,208.2 94.6,208.7 93.8,209.11 92.8,209.44Z" fill="#8aec50"/>
<path d="M93.4,208.06 92.6,208.17 91.8,208.15 90.4,207.98 89.6,207.75 89,207.43 88.6,207.07 88.25,206.6 87.96,206 87.74,204.8 87.87,203.4 88.2,202.34 89.09,200.6 89.26,200 89.15,199.6 88.6,198.62 88.48,197.8 88.55,197.4 88.76,197 89.2,196.64 89.8,196.61 90.36,197 90.69,197.6 90.99,198.8 91.2,199.09 91.6,199.27 93.2,199.54 93.6,199.74 94,200.06 94.49,200.8 95.53,203.2 95.71,203.8 95.8,204.6 95.73,205.4 95.49,206.2 95.18,206.8 94.6,207.45 94,207.84 93.4,208.06Z" fill="#c4ee3a"/>
<path d="M93.6,207.21 93,207.37 92.4,207.4 90.4,207.17 89.42,206.8 88.8,206.21 88.56,205.8 88.38,205.2 88.32,204.6 88.37,204 88.52,203.4 88.8,202.77 89.2,202.22 89.6,201.86 90.2,201.52 91,201.27 91.8,201.18 92.4,201.22 93,201.42 93.4,201.69 94.2,202.62 94.74,203.4 95.04,204 95.17,204.6 95.16,205.2 95,205.8 94.67,206.4 94.2,206.87 93.6,207.21Z" fill="#f4ea20"/>
<path d="M92.6,206.62 91.4,206.56 90.4,206.35 89.8,206.06 89.36,205.6 89.17,205.2 89.09,204.8 89.16,204 89.58,203.2 90.2,202.68 90.8,202.42 91.4,202.3 92,202.3 92.4,202.39 93.2,202.83 94.06,203.8 94.34,204.4 94.41,204.8 94.38,205.2 94.25,205.6 93.98,206 93.6,206.32 93.2,206.5 92.6,206.62Z" fill="#fa9418"/>
<path d="M92.4,206.21 91.6,206.18 90.74,206 90.2,205.75 89.8,205.35 89.59,204.8 89.62,204.2 89.92,203.6 90.4,203.17 91.2,202.85 91.8,202.8 92.2,202.86 93,203.26 93.67,204 93.85,204.4 93.93,204.8 93.8,205.4 93.6,205.69 93.2,206 92.4,206.21Z" fill="#e82012"/>
</g>
<path d="M82.7,174.2 V195.2 H104.4 V174.2" fill="none" stroke="#5c5c5c" stroke-width="0.9"/>
<rect x="61" y="174.2" width="54.2" height="54.5" fill="none" stroke="#3a3a3a" stroke-width="0.9"/>
<line x1="61" y1="173.8" x2="61" y2="229.3" stroke="#000" stroke-width="1.3" />
<line x1="60.4" y1="228.7" x2="115.6" y2="228.7" stroke="#000" stroke-width="1.3" />
<line x1="57.8" y1="179.6" x2="61" y2="179.6" stroke="#000" stroke-width="1.1" />
<line x1="59" y1="188.48" x2="61" y2="188.48" stroke="#000" stroke-width="0.75" />
<line x1="59" y1="186.24" x2="61" y2="186.24" stroke="#000" stroke-width="0.75" />
<line x1="59" y1="184.65" x2="61" y2="184.65" stroke="#000" stroke-width="0.75" />
<line x1="59" y1="183.42" x2="61" y2="183.42" stroke="#000" stroke-width="0.75" />
<line x1="59" y1="182.42" x2="61" y2="182.42" stroke="#000" stroke-width="0.75" />
<line x1="59" y1="181.57" x2="61" y2="181.57" stroke="#000" stroke-width="0.75" />
<line x1="59" y1="180.83" x2="61" y2="180.83" stroke="#000" stroke-width="0.75" />
<line x1="59" y1="180.18" x2="61" y2="180.18" stroke="#000" stroke-width="0.75" />
<line x1="57.8" y1="192.3" x2="61" y2="192.3" stroke="#000" stroke-width="1.1" />
<line x1="59" y1="201.18" x2="61" y2="201.18" stroke="#000" stroke-width="0.75" />
<line x1="59" y1="198.94" x2="61" y2="198.94" stroke="#000" stroke-width="0.75" />
<line x1="59" y1="197.35" x2="61" y2="197.35" stroke="#000" stroke-width="0.75" />
<line x1="59" y1="196.12" x2="61" y2="196.12" stroke="#000" stroke-width="0.75" />
<line x1="59" y1="195.12" x2="61" y2="195.12" stroke="#000" stroke-width="0.75" />
<line x1="59" y1="194.27" x2="61" y2="194.27" stroke="#000" stroke-width="0.75" />
<line x1="59" y1="193.53" x2="61" y2="193.53" stroke="#000" stroke-width="0.75" />
<line x1="59" y1="192.88" x2="61" y2="192.88" stroke="#000" stroke-width="0.75" />
<line x1="57.8" y1="205" x2="61" y2="205" stroke="#000" stroke-width="1.1" />
<line x1="59" y1="213.88" x2="61" y2="213.88" stroke="#000" stroke-width="0.75" />
<line x1="59" y1="211.64" x2="61" y2="211.64" stroke="#000" stroke-width="0.75" />
<line x1="59" y1="210.05" x2="61" y2="210.05" stroke="#000" stroke-width="0.75" />
<line x1="59" y1="208.82" x2="61" y2="208.82" stroke="#000" stroke-width="0.75" />
<line x1="59" y1="207.82" x2="61" y2="207.82" stroke="#000" stroke-width="0.75" />
<line x1="59" y1="206.97" x2="61" y2="206.97" stroke="#000" stroke-width="0.75" />
<line x1="59" y1="206.23" x2="61" y2="206.23" stroke="#000" stroke-width="0.75" />
<line x1="59" y1="205.58" x2="61" y2="205.58" stroke="#000" stroke-width="0.75" />
<line x1="57.8" y1="217.7" x2="61" y2="217.7" stroke="#000" stroke-width="1.1" />
<line x1="57.8" y1="223.2" x2="61" y2="223.2" stroke="#000" stroke-width="1.1" />
<line x1="59" y1="220.4" x2="61" y2="220.4" stroke="#000" stroke-width="0.75" />
<line x1="59" y1="221.8" x2="61" y2="221.8" stroke="#000" stroke-width="0.75" />
<line x1="59" y1="225.2" x2="61" y2="225.2" stroke="#000" stroke-width="0.75" />
<line x1="59" y1="226.8" x2="61" y2="226.8" stroke="#000" stroke-width="0.75" />
<line x1="66.5" y1="228.7" x2="66.5" y2="231.9" stroke="#000" stroke-width="1.1" />
<line x1="72.3" y1="228.7" x2="72.3" y2="231.9" stroke="#000" stroke-width="1.1" />
<line x1="84.8" y1="228.7" x2="84.8" y2="231.9" stroke="#000" stroke-width="1.1" />
<line x1="96.9" y1="228.7" x2="96.9" y2="231.9" stroke="#000" stroke-width="1.1" />
<line x1="109.3" y1="228.7" x2="109.3" y2="231.9" stroke="#000" stroke-width="1.1" />
<line x1="76.06" y1="228.7" x2="76.06" y2="230.7" stroke="#000" stroke-width="0.75" />
<line x1="78.26" y1="228.7" x2="78.26" y2="230.7" stroke="#000" stroke-width="0.75" />
<line x1="79.83" y1="228.7" x2="79.83" y2="230.7" stroke="#000" stroke-width="0.75" />
<line x1="81.04" y1="228.7" x2="81.04" y2="230.7" stroke="#000" stroke-width="0.75" />
<line x1="82.03" y1="228.7" x2="82.03" y2="230.7" stroke="#000" stroke-width="0.75" />
<line x1="82.86" y1="228.7" x2="82.86" y2="230.7" stroke="#000" stroke-width="0.75" />
<line x1="83.59" y1="228.7" x2="83.59" y2="230.7" stroke="#000" stroke-width="0.75" />
<line x1="84.23" y1="228.7" x2="84.23" y2="230.7" stroke="#000" stroke-width="0.75" />
<line x1="88.56" y1="228.7" x2="88.56" y2="230.7" stroke="#000" stroke-width="0.75" />
<line x1="90.76" y1="228.7" x2="90.76" y2="230.7" stroke="#000" stroke-width="0.75" />
<line x1="92.33" y1="228.7" x2="92.33" y2="230.7" stroke="#000" stroke-width="0.75" />
<line x1="93.54" y1="228.7" x2="93.54" y2="230.7" stroke="#000" stroke-width="0.75" />
<line x1="94.53" y1="228.7" x2="94.53" y2="230.7" stroke="#000" stroke-width="0.75" />
<line x1="95.36" y1="228.7" x2="95.36" y2="230.7" stroke="#000" stroke-width="0.75" />
<line x1="96.09" y1="228.7" x2="96.09" y2="230.7" stroke="#000" stroke-width="0.75" />
<line x1="96.73" y1="228.7" x2="96.73" y2="230.7" stroke="#000" stroke-width="0.75" />
<line x1="100.66" y1="228.7" x2="100.66" y2="230.7" stroke="#000" stroke-width="0.75" />
<line x1="102.86" y1="228.7" x2="102.86" y2="230.7" stroke="#000" stroke-width="0.75" />
<line x1="104.43" y1="228.7" x2="104.43" y2="230.7" stroke="#000" stroke-width="0.75" />
<line x1="105.64" y1="228.7" x2="105.64" y2="230.7" stroke="#000" stroke-width="0.75" />
<line x1="106.63" y1="228.7" x2="106.63" y2="230.7" stroke="#000" stroke-width="0.75" />
<line x1="107.46" y1="228.7" x2="107.46" y2="230.7" stroke="#000" stroke-width="0.75" />
<line x1="108.19" y1="228.7" x2="108.19" y2="230.7" stroke="#000" stroke-width="0.75" />
<line x1="108.83" y1="228.7" x2="108.83" y2="230.7" stroke="#000" stroke-width="0.75" />
<line x1="63" y1="228.7" x2="63" y2="230.7" stroke="#000" stroke-width="0.75" />
<line x1="64.5" y1="228.7" x2="64.5" y2="230.7" stroke="#000" stroke-width="0.75" />
<line x1="68.5" y1="228.7" x2="68.5" y2="230.7" stroke="#000" stroke-width="0.75" />
<line x1="70.2" y1="228.7" x2="70.2" y2="230.7" stroke="#000" stroke-width="0.75" />
<text x="55.1" y="181.25" font-size="5.5" text-anchor="end" fill="#1a1a1a">10<tspan font-size="3.96" dy="-2.31">5</tspan></text>
<text x="55.1" y="193.95" font-size="5.5" text-anchor="end" fill="#1a1a1a">10<tspan font-size="3.96" dy="-2.31">4</tspan></text>
<text x="55.1" y="206.65" font-size="5.5" text-anchor="end" fill="#1a1a1a">10<tspan font-size="3.96" dy="-2.31">3</tspan></text>
<text x="55.1" y="219.35" font-size="5.5" text-anchor="end" fill="#1a1a1a">10<tspan font-size="3.96" dy="-2.31">2</tspan></text>
<text x="54.9" y="224.9" font-size="5.5" text-anchor="end" fill="#1a1a1a" >0</text>
<text x="66.5" y="239.5" font-size="5.5" text-anchor="middle" fill="#1a1a1a" >0</text>
<text x="73.3" y="239.5" font-size="5.5" text-anchor="middle" fill="#1a1a1a">10<tspan font-size="3.96" dy="-2.31">2</tspan></text>
<text x="85.8" y="239.5" font-size="5.5" text-anchor="middle" fill="#1a1a1a">10<tspan font-size="3.96" dy="-2.31">3</tspan></text>
<text x="97.9" y="239.5" font-size="5.5" text-anchor="middle" fill="#1a1a1a">10<tspan font-size="3.96" dy="-2.31">4</tspan></text>
<text x="110.3" y="239.5" font-size="5.5" text-anchor="middle" fill="#1a1a1a">10<tspan font-size="3.96" dy="-2.31">5</tspan></text>
<text x="65.6" y="181.6" font-size="6.2" text-anchor="start" fill="#1a1a1a" >27</text>
<g filter="url(#bl)">
<path d="M172.3,214.02 171.1,214.17 170.3,214.18 169.3,214.07 168.3,213.84 167.3,213.5 166.5,213.11 165.7,212.56 165.11,212 164.5,211.25 163.98,210.4 163.59,209.6 163.15,208.4 162.72,206.4 162.58,203.8 162.71,203 162.99,202.2 165.1,198.4 165.9,196.61 166.3,195.4 167.58,190.4 168.23,188.8 169.38,186.6 170.3,185.28 171.3,184.42 171.9,184.08 172.5,183.86 173.1,183.73 173.9,183.71 175.9,184.03 177.3,184.43 178.3,184.97 179.1,185.76 179.76,187 180.14,188.4 180.3,190 180.28,191.8 180.02,194.2 179.48,196.6 179.3,197.8 179.24,200.6 179.4,203.8 179.4,205.2 179.23,206.6 178.84,208 178.38,209 177.88,209.8 176.64,211.4 175.7,212.42 174.9,213.07 174.1,213.52 173.3,213.81 172.3,214.02Z" fill="#0a22ee"/>
<path d="M172.5,211.43 170.9,211.58 169.5,211.42 168.1,210.98 166.9,210.23 165.98,209.2 165.37,208 164.99,206.6 164.92,205.2 165.04,204.2 165.63,201.6 165.93,200.8 167.1,198.44 167.79,196.8 168.15,195.6 169.05,192 169.4,191 170.3,189.56 171.3,188.45 171.7,188.15 172.3,187.86 172.9,187.72 173.5,187.7 176.1,188.05 176.7,188.3 177.25,188.8 177.68,189.6 177.97,190.6 178.14,191.8 178.17,193.2 177.53,198.4 177.35,204.6 177.18,205.8 176.93,206.8 176.63,207.6 176.21,208.4 175.66,209.2 174.9,210.08 174.3,210.62 173.7,211.01 172.5,211.43Z" fill="#1e6cf6"/>
<path d="M171.9,210.41 170.7,210.45 169.5,210.24 168.5,209.87 167.5,209.21 166.78,208.4 166.24,207.4 165.95,206.4 165.91,205.4 166.29,203.6 166.35,202.2 166.51,201.4 166.77,200.8 167.97,198.8 168.64,197.4 169.9,193.51 170.42,192.2 170.91,191.4 171.7,190.62 172.5,190.24 173.3,190.17 174.9,190.44 175.7,190.79 176.3,191.44 176.7,192.43 176.83,193.2 176.87,194.2 176.5,198.8 176.53,204 176.36,205.4 176.05,206.6 175.61,207.6 175.1,208.4 174.5,209.09 173.7,209.75 172.9,210.16 171.9,210.41Z" fill="#5cd8f4"/>
<path d="M171.7,209.41 170.7,209.46 169.9,209.32 169.12,209 168.54,208.6 167.79,207.8 167.14,206.8 166.86,206 166.82,205.2 167.07,203.6 167.14,202 167.44,201.2 168.1,200.36 169.83,198.6 170.7,196.75 171.3,195.8 171.9,195.23 172.5,195.07 173.9,195.48 174.3,195.81 174.6,196.4 174.9,197.68 175.54,201.4 175.69,202.8 175.7,204 175.6,205 175.36,206 175.05,206.8 174.58,207.6 173.9,208.36 173.3,208.81 172.5,209.2 171.7,209.41Z" fill="#8aec50"/>
<path d="M170.9,208.6 170.1,208.44 169.5,208.05 168.96,207.4 167.9,205.8 167.76,205.4 167.7,204.8 168.01,202.4 168.16,202 168.43,201.6 168.9,201.21 169.3,200.99 170.1,200.74 171.9,200.4 172.5,200.33 172.9,200.37 173.5,200.65 173.87,201 174.27,201.6 174.53,202.2 174.75,203 174.83,203.8 174.8,204.6 174.65,205.4 174.17,206.6 173.75,207.2 173.3,207.65 172.7,208.08 172.1,208.38 171.5,208.55 170.9,208.6Z" fill="#c4ee3a"/>
<path d="M171.3,208.01 170.5,207.96 170.1,207.76 169.7,207.38 168.55,205.6 168.34,205 168.32,204.4 168.46,203.6 168.7,202.85 168.96,202.4 169.3,202.06 169.9,201.73 170.5,201.55 171.9,201.48 172.5,201.59 172.9,201.76 173.3,202.03 173.64,202.4 173.9,202.85 174.09,203.4 174.16,204.6 173.87,205.8 173.27,206.8 172.89,207.2 172.3,207.64 171.7,207.92 171.3,208.01Z" fill="#f4ea20"/>
<path d="M171.1,207.41 170.5,207.26 169.9,206.69 169.17,205.4 169,204.6 169.16,203.8 169.35,203.4 169.7,202.96 170.1,202.67 170.5,202.5 171.3,202.41 172.2,202.6 172.9,203.07 173.31,203.8 173.4,204.6 173.19,205.6 172.7,206.46 171.9,207.17 171.5,207.34 171.1,207.41Z" fill="#fa9418"/>
<path d="M171.3,207.03 170.7,206.96 170.23,206.6 169.62,205.6 169.4,204.8 169.5,204.1 169.9,203.45 170.5,203.05 171.1,202.93 171.9,203.07 172.44,203.4 172.84,204 172.95,204.6 172.83,205.4 172.44,206.2 171.9,206.75 171.3,207.03Z" fill="#e82012"/>
</g>
<path d="M162,174.2 V195.2 H183.7 V174.2" fill="none" stroke="#5c5c5c" stroke-width="0.9"/>
<rect x="140.3" y="174.2" width="54.2" height="54.5" fill="none" stroke="#3a3a3a" stroke-width="0.9"/>
<line x1="140.3" y1="173.8" x2="140.3" y2="229.3" stroke="#000" stroke-width="1.3" />
<line x1="139.7" y1="228.7" x2="194.9" y2="228.7" stroke="#000" stroke-width="1.3" />
<line x1="137.1" y1="179.6" x2="140.3" y2="179.6" stroke="#000" stroke-width="1.1" />
<line x1="138.3" y1="188.48" x2="140.3" y2="188.48" stroke="#000" stroke-width="0.75" />
<line x1="138.3" y1="186.24" x2="140.3" y2="186.24" stroke="#000" stroke-width="0.75" />
<line x1="138.3" y1="184.65" x2="140.3" y2="184.65" stroke="#000" stroke-width="0.75" />
<line x1="138.3" y1="183.42" x2="140.3" y2="183.42" stroke="#000" stroke-width="0.75" />
<line x1="138.3" y1="182.42" x2="140.3" y2="182.42" stroke="#000" stroke-width="0.75" />
<line x1="138.3" y1="181.57" x2="140.3" y2="181.57" stroke="#000" stroke-width="0.75" />
<line x1="138.3" y1="180.83" x2="140.3" y2="180.83" stroke="#000" stroke-width="0.75" />
<line x1="138.3" y1="180.18" x2="140.3" y2="180.18" stroke="#000" stroke-width="0.75" />
<line x1="137.1" y1="192.3" x2="140.3" y2="192.3" stroke="#000" stroke-width="1.1" />
<line x1="138.3" y1="201.18" x2="140.3" y2="201.18" stroke="#000" stroke-width="0.75" />
<line x1="138.3" y1="198.94" x2="140.3" y2="198.94" stroke="#000" stroke-width="0.75" />
<line x1="138.3" y1="197.35" x2="140.3" y2="197.35" stroke="#000" stroke-width="0.75" />
<line x1="138.3" y1="196.12" x2="140.3" y2="196.12" stroke="#000" stroke-width="0.75" />
<line x1="138.3" y1="195.12" x2="140.3" y2="195.12" stroke="#000" stroke-width="0.75" />
<line x1="138.3" y1="194.27" x2="140.3" y2="194.27" stroke="#000" stroke-width="0.75" />
<line x1="138.3" y1="193.53" x2="140.3" y2="193.53" stroke="#000" stroke-width="0.75" />
<line x1="138.3" y1="192.88" x2="140.3" y2="192.88" stroke="#000" stroke-width="0.75" />
<line x1="137.1" y1="205" x2="140.3" y2="205" stroke="#000" stroke-width="1.1" />
<line x1="138.3" y1="213.88" x2="140.3" y2="213.88" stroke="#000" stroke-width="0.75" />
<line x1="138.3" y1="211.64" x2="140.3" y2="211.64" stroke="#000" stroke-width="0.75" />
<line x1="138.3" y1="210.05" x2="140.3" y2="210.05" stroke="#000" stroke-width="0.75" />
<line x1="138.3" y1="208.82" x2="140.3" y2="208.82" stroke="#000" stroke-width="0.75" />
<line x1="138.3" y1="207.82" x2="140.3" y2="207.82" stroke="#000" stroke-width="0.75" />
<line x1="138.3" y1="206.97" x2="140.3" y2="206.97" stroke="#000" stroke-width="0.75" />
<line x1="138.3" y1="206.23" x2="140.3" y2="206.23" stroke="#000" stroke-width="0.75" />
<line x1="138.3" y1="205.58" x2="140.3" y2="205.58" stroke="#000" stroke-width="0.75" />
<line x1="137.1" y1="217.7" x2="140.3" y2="217.7" stroke="#000" stroke-width="1.1" />
<line x1="137.1" y1="223.2" x2="140.3" y2="223.2" stroke="#000" stroke-width="1.1" />
<line x1="138.3" y1="220.4" x2="140.3" y2="220.4" stroke="#000" stroke-width="0.75" />
<line x1="138.3" y1="221.8" x2="140.3" y2="221.8" stroke="#000" stroke-width="0.75" />
<line x1="138.3" y1="225.2" x2="140.3" y2="225.2" stroke="#000" stroke-width="0.75" />
<line x1="138.3" y1="226.8" x2="140.3" y2="226.8" stroke="#000" stroke-width="0.75" />
<line x1="145.8" y1="228.7" x2="145.8" y2="231.9" stroke="#000" stroke-width="1.1" />
<line x1="151.6" y1="228.7" x2="151.6" y2="231.9" stroke="#000" stroke-width="1.1" />
<line x1="164.1" y1="228.7" x2="164.1" y2="231.9" stroke="#000" stroke-width="1.1" />
<line x1="176.2" y1="228.7" x2="176.2" y2="231.9" stroke="#000" stroke-width="1.1" />
<line x1="188.6" y1="228.7" x2="188.6" y2="231.9" stroke="#000" stroke-width="1.1" />
<line x1="155.36" y1="228.7" x2="155.36" y2="230.7" stroke="#000" stroke-width="0.75" />
<line x1="157.56" y1="228.7" x2="157.56" y2="230.7" stroke="#000" stroke-width="0.75" />
<line x1="159.13" y1="228.7" x2="159.13" y2="230.7" stroke="#000" stroke-width="0.75" />
<line x1="160.34" y1="228.7" x2="160.34" y2="230.7" stroke="#000" stroke-width="0.75" />
<line x1="161.33" y1="228.7" x2="161.33" y2="230.7" stroke="#000" stroke-width="0.75" />
<line x1="162.16" y1="228.7" x2="162.16" y2="230.7" stroke="#000" stroke-width="0.75" />
<line x1="162.89" y1="228.7" x2="162.89" y2="230.7" stroke="#000" stroke-width="0.75" />
<line x1="163.53" y1="228.7" x2="163.53" y2="230.7" stroke="#000" stroke-width="0.75" />
<line x1="167.86" y1="228.7" x2="167.86" y2="230.7" stroke="#000" stroke-width="0.75" />
<line x1="170.06" y1="228.7" x2="170.06" y2="230.7" stroke="#000" stroke-width="0.75" />
<line x1="171.63" y1="228.7" x2="171.63" y2="230.7" stroke="#000" stroke-width="0.75" />
<line x1="172.84" y1="228.7" x2="172.84" y2="230.7" stroke="#000" stroke-width="0.75" />
<line x1="173.83" y1="228.7" x2="173.83" y2="230.7" stroke="#000" stroke-width="0.75" />
<line x1="174.66" y1="228.7" x2="174.66" y2="230.7" stroke="#000" stroke-width="0.75" />
<line x1="175.39" y1="228.7" x2="175.39" y2="230.7" stroke="#000" stroke-width="0.75" />
<line x1="176.03" y1="228.7" x2="176.03" y2="230.7" stroke="#000" stroke-width="0.75" />
<line x1="179.96" y1="228.7" x2="179.96" y2="230.7" stroke="#000" stroke-width="0.75" />
<line x1="182.16" y1="228.7" x2="182.16" y2="230.7" stroke="#000" stroke-width="0.75" />
<line x1="183.73" y1="228.7" x2="183.73" y2="230.7" stroke="#000" stroke-width="0.75" />
<line x1="184.94" y1="228.7" x2="184.94" y2="230.7" stroke="#000" stroke-width="0.75" />
<line x1="185.93" y1="228.7" x2="185.93" y2="230.7" stroke="#000" stroke-width="0.75" />
<line x1="186.76" y1="228.7" x2="186.76" y2="230.7" stroke="#000" stroke-width="0.75" />
<line x1="187.49" y1="228.7" x2="187.49" y2="230.7" stroke="#000" stroke-width="0.75" />
<line x1="188.13" y1="228.7" x2="188.13" y2="230.7" stroke="#000" stroke-width="0.75" />
<line x1="142.3" y1="228.7" x2="142.3" y2="230.7" stroke="#000" stroke-width="0.75" />
<line x1="143.8" y1="228.7" x2="143.8" y2="230.7" stroke="#000" stroke-width="0.75" />
<line x1="147.8" y1="228.7" x2="147.8" y2="230.7" stroke="#000" stroke-width="0.75" />
<line x1="149.5" y1="228.7" x2="149.5" y2="230.7" stroke="#000" stroke-width="0.75" />
<text x="134.4" y="181.25" font-size="5.5" text-anchor="end" fill="#1a1a1a">10<tspan font-size="3.96" dy="-2.31">5</tspan></text>
<text x="134.4" y="193.95" font-size="5.5" text-anchor="end" fill="#1a1a1a">10<tspan font-size="3.96" dy="-2.31">4</tspan></text>
<text x="134.4" y="206.65" font-size="5.5" text-anchor="end" fill="#1a1a1a">10<tspan font-size="3.96" dy="-2.31">3</tspan></text>
<text x="134.4" y="219.35" font-size="5.5" text-anchor="end" fill="#1a1a1a">10<tspan font-size="3.96" dy="-2.31">2</tspan></text>
<text x="134.2" y="224.9" font-size="5.5" text-anchor="end" fill="#1a1a1a" >0</text>
<text x="145.8" y="239.5" font-size="5.5" text-anchor="middle" fill="#1a1a1a" >0</text>
<text x="152.6" y="239.5" font-size="5.5" text-anchor="middle" fill="#1a1a1a">10<tspan font-size="3.96" dy="-2.31">2</tspan></text>
<text x="165.1" y="239.5" font-size="5.5" text-anchor="middle" fill="#1a1a1a">10<tspan font-size="3.96" dy="-2.31">3</tspan></text>
<text x="177.2" y="239.5" font-size="5.5" text-anchor="middle" fill="#1a1a1a">10<tspan font-size="3.96" dy="-2.31">4</tspan></text>
<text x="189.6" y="239.5" font-size="5.5" text-anchor="middle" fill="#1a1a1a">10<tspan font-size="3.96" dy="-2.31">5</tspan></text>
<text x="144.9" y="181.6" font-size="6.2" text-anchor="start" fill="#1a1a1a" >17</text>
<g filter="url(#bl)">
<path d="M252.8,211.2 251.6,211.12 249.8,211.21 248.6,211.08 246.8,210.55 245.2,209.73 244,208.76 242.46,206.8 242.13,206.2 241.82,205.4 241.52,203.8 241.62,202.2 242.07,200.6 242.76,199.2 244.6,196.2 245.18,194.6 245.42,193.4 245.8,190.4 246.1,186.4 246.44,185.2 246.88,184.4 247.33,183.8 248,183.12 248.6,182.66 249.2,182.31 250,181.99 251.4,181.78 252.2,181.78 253,181.89 253.8,182.16 254.8,182.65 255.6,183.15 256.12,183.6 256.62,184.2 256.95,184.8 257.4,186.67 257.86,188 257.93,188.4 257.84,189 257.26,190.2 257.06,191 256.91,193.8 257,195.63 257.6,198.29 257.98,199 258.79,200 259.13,200.6 259.52,201.8 259.68,203 259.63,204.2 259.35,205.4 258.68,206.8 257.76,208.2 256.97,209 256,209.7 253.8,210.89 252.8,211.2Z" fill="#0a22ee"/>
<path d="M250.6,209.03 249.6,209.16 248.4,208.95 247,208.38 245.82,207.6 244.9,206.6 244.14,205.4 243.7,204.2 243.64,203.2 243.94,202.2 244.76,201 245.12,199.4 246.2,197.39 246.8,195.6 247.48,194.2 247.69,193.6 247.89,192.4 248.14,189.8 248.11,188.8 247.85,187 247.9,186.4 248.04,186 248.4,185.44 248.8,185.04 250,184.31 251.2,183.94 252.6,183.88 253.8,184.1 254.6,184.51 255.1,185 255.44,185.8 255.43,186.8 255.01,188.4 254.84,189.6 254.67,193.4 254.51,194.2 254.14,195.4 254.11,195.8 254.31,196.4 255.52,198 256.91,200.8 257.32,202.2 257.4,203.6 257.22,204.6 256.7,205.8 256,206.91 255.2,207.71 254.45,208.2 253.8,208.45 251.8,208.72 250.6,209.03Z" fill="#1e6cf6"/>
<path d="M250.6,208.2 249.6,208.21 248.6,207.99 247.4,207.52 246.4,206.94 245.8,206.36 245.17,205.4 244.71,204.4 244.59,203.6 244.81,203 245.8,202.07 246.07,201.6 246.18,201 246.12,200 246.17,199.6 246.38,199 247.09,197.6 247.34,196.2 247.49,195.8 247.8,195.3 248.94,194 249.29,193.2 249.51,191.6 249.64,189.6 249.54,188.8 248.99,187.2 248.96,186.8 249.07,186.4 249.6,185.82 250.4,185.45 252,185.09 253.2,185.03 253.78,185.2 254.07,185.4 254.34,185.8 254.41,186.2 254.28,186.8 253.56,188.2 253.38,189 253.25,190.6 253.26,192.6 252.9,195 252.93,195.8 253.22,196.6 254.8,198.6 255.63,200.2 256.03,201.2 256.24,202 256.36,202.8 256.35,203.6 256.14,204.6 255.8,205.4 255.2,206.29 254.46,207 253.8,207.43 253.2,207.69 250.6,208.2Z" fill="#5cd8f4"/>
<path d="M251.6,207.21 250.6,207.32 249.6,207.25 248.4,206.91 247.2,206.42 246.62,206 246.31,205.6 246.02,205 245.78,204.2 245.76,203.8 245.87,203.4 246.55,202.2 246.77,201.6 247.14,199.6 248.18,197.6 248.26,196.2 248.49,195.8 248.8,195.52 249.4,195.17 249.8,195.05 250.4,195.12 250.83,195.4 251.88,196.8 253.8,198.91 254.27,199.6 254.78,200.6 255.15,201.6 255.32,202.4 255.37,203.2 255.26,204 254.98,204.8 254.47,205.6 253.87,206.2 253.2,206.66 252.4,207.01 251.6,207.21Z" fill="#8aec50"/>
<path d="M251.6,206.23 251,206.33 250.2,206.32 249.4,206.18 248.6,205.89 248,205.59 247.5,205.2 247.22,204.8 247,204.2 246.92,203.6 247,203 247.99,200 248.39,199.2 248.8,198.6 249.4,198.07 249.8,197.9 250.4,197.98 250.8,198.3 250.97,198.6 251.22,199.6 251.6,200.07 252,200.26 253,200.48 253.5,200.8 253.92,201.4 254.22,202.2 254.32,203 254.27,203.6 254.1,204.2 253.8,204.76 253.4,205.25 252.8,205.73 252.2,206.04 251.6,206.23Z" fill="#c4ee3a"/>
<path d="M251.2,205.63 250.6,205.68 250,205.61 249.4,205.45 248.8,205.16 248.31,204.8 248,204.44 247.66,203.6 247.71,202.6 248.12,201.4 249.03,199.4 249.4,198.96 249.8,198.8 250,198.82 250.25,199 250.71,200 251.02,200.4 251.4,200.67 252.43,201.2 252.92,201.6 253.2,202 253.42,202.6 253.45,203.6 253.26,204.2 253.02,204.6 252.64,205 252.2,205.3 251.2,205.63Z" fill="#f4ea20"/>
<path d="M251.6,204.83 250.8,204.99 249.8,204.81 249.1,204.4 248.62,203.8 248.44,203 248.61,202.2 249.2,201.26 249.6,200.86 249.8,200.75 250,200.74 250.4,200.88 251.6,201.51 252.15,202 252.4,202.4 252.62,203.2 252.56,203.8 252.22,204.4 251.6,204.83Z" fill="#fa9418"/>
<path d="M251,204.61 250.4,204.59 249.8,204.36 249.34,204 249,203.4 248.96,202.8 249.17,202.2 249.6,201.68 250,201.47 250.6,201.47 251.35,201.8 251.8,202.2 252.13,202.8 252.21,203.4 252.03,204 251.6,204.41 251,204.61Z" fill="#e82012"/>
</g>
<path d="M241.3,174.2 V195.2 H263 V174.2" fill="none" stroke="#5c5c5c" stroke-width="0.9"/>
<rect x="219.6" y="174.2" width="54.2" height="54.5" fill="none" stroke="#3a3a3a" stroke-width="0.9"/>
<line x1="219.6" y1="173.8" x2="219.6" y2="229.3" stroke="#000" stroke-width="1.3" />
<line x1="219" y1="228.7" x2="274.2" y2="228.7" stroke="#000" stroke-width="1.3" />
<line x1="216.4" y1="179.6" x2="219.6" y2="179.6" stroke="#000" stroke-width="1.1" />
<line x1="217.6" y1="188.48" x2="219.6" y2="188.48" stroke="#000" stroke-width="0.75" />
<line x1="217.6" y1="186.24" x2="219.6" y2="186.24" stroke="#000" stroke-width="0.75" />
<line x1="217.6" y1="184.65" x2="219.6" y2="184.65" stroke="#000" stroke-width="0.75" />
<line x1="217.6" y1="183.42" x2="219.6" y2="183.42" stroke="#000" stroke-width="0.75" />
<line x1="217.6" y1="182.42" x2="219.6" y2="182.42" stroke="#000" stroke-width="0.75" />
<line x1="217.6" y1="181.57" x2="219.6" y2="181.57" stroke="#000" stroke-width="0.75" />
<line x1="217.6" y1="180.83" x2="219.6" y2="180.83" stroke="#000" stroke-width="0.75" />
<line x1="217.6" y1="180.18" x2="219.6" y2="180.18" stroke="#000" stroke-width="0.75" />
<line x1="216.4" y1="192.3" x2="219.6" y2="192.3" stroke="#000" stroke-width="1.1" />
<line x1="217.6" y1="201.18" x2="219.6" y2="201.18" stroke="#000" stroke-width="0.75" />
<line x1="217.6" y1="198.94" x2="219.6" y2="198.94" stroke="#000" stroke-width="0.75" />
<line x1="217.6" y1="197.35" x2="219.6" y2="197.35" stroke="#000" stroke-width="0.75" />
<line x1="217.6" y1="196.12" x2="219.6" y2="196.12" stroke="#000" stroke-width="0.75" />
<line x1="217.6" y1="195.12" x2="219.6" y2="195.12" stroke="#000" stroke-width="0.75" />
<line x1="217.6" y1="194.27" x2="219.6" y2="194.27" stroke="#000" stroke-width="0.75" />
<line x1="217.6" y1="193.53" x2="219.6" y2="193.53" stroke="#000" stroke-width="0.75" />
<line x1="217.6" y1="192.88" x2="219.6" y2="192.88" stroke="#000" stroke-width="0.75" />
<line x1="216.4" y1="205" x2="219.6" y2="205" stroke="#000" stroke-width="1.1" />
<line x1="217.6" y1="213.88" x2="219.6" y2="213.88" stroke="#000" stroke-width="0.75" />
<line x1="217.6" y1="211.64" x2="219.6" y2="211.64" stroke="#000" stroke-width="0.75" />
<line x1="217.6" y1="210.05" x2="219.6" y2="210.05" stroke="#000" stroke-width="0.75" />
<line x1="217.6" y1="208.82" x2="219.6" y2="208.82" stroke="#000" stroke-width="0.75" />
<line x1="217.6" y1="207.82" x2="219.6" y2="207.82" stroke="#000" stroke-width="0.75" />
<line x1="217.6" y1="206.97" x2="219.6" y2="206.97" stroke="#000" stroke-width="0.75" />
<line x1="217.6" y1="206.23" x2="219.6" y2="206.23" stroke="#000" stroke-width="0.75" />
<line x1="217.6" y1="205.58" x2="219.6" y2="205.58" stroke="#000" stroke-width="0.75" />
<line x1="216.4" y1="217.7" x2="219.6" y2="217.7" stroke="#000" stroke-width="1.1" />
<line x1="216.4" y1="223.2" x2="219.6" y2="223.2" stroke="#000" stroke-width="1.1" />
<line x1="217.6" y1="220.4" x2="219.6" y2="220.4" stroke="#000" stroke-width="0.75" />
<line x1="217.6" y1="221.8" x2="219.6" y2="221.8" stroke="#000" stroke-width="0.75" />
<line x1="217.6" y1="225.2" x2="219.6" y2="225.2" stroke="#000" stroke-width="0.75" />
<line x1="217.6" y1="226.8" x2="219.6" y2="226.8" stroke="#000" stroke-width="0.75" />
<line x1="225.1" y1="228.7" x2="225.1" y2="231.9" stroke="#000" stroke-width="1.1" />
<line x1="230.9" y1="228.7" x2="230.9" y2="231.9" stroke="#000" stroke-width="1.1" />
<line x1="243.4" y1="228.7" x2="243.4" y2="231.9" stroke="#000" stroke-width="1.1" />
<line x1="255.5" y1="228.7" x2="255.5" y2="231.9" stroke="#000" stroke-width="1.1" />
<line x1="267.9" y1="228.7" x2="267.9" y2="231.9" stroke="#000" stroke-width="1.1" />
<line x1="234.66" y1="228.7" x2="234.66" y2="230.7" stroke="#000" stroke-width="0.75" />
<line x1="236.86" y1="228.7" x2="236.86" y2="230.7" stroke="#000" stroke-width="0.75" />
<line x1="238.43" y1="228.7" x2="238.43" y2="230.7" stroke="#000" stroke-width="0.75" />
<line x1="239.64" y1="228.7" x2="239.64" y2="230.7" stroke="#000" stroke-width="0.75" />
<line x1="240.63" y1="228.7" x2="240.63" y2="230.7" stroke="#000" stroke-width="0.75" />
<line x1="241.46" y1="228.7" x2="241.46" y2="230.7" stroke="#000" stroke-width="0.75" />
<line x1="242.19" y1="228.7" x2="242.19" y2="230.7" stroke="#000" stroke-width="0.75" />
<line x1="242.83" y1="228.7" x2="242.83" y2="230.7" stroke="#000" stroke-width="0.75" />
<line x1="247.16" y1="228.7" x2="247.16" y2="230.7" stroke="#000" stroke-width="0.75" />
<line x1="249.36" y1="228.7" x2="249.36" y2="230.7" stroke="#000" stroke-width="0.75" />
<line x1="250.93" y1="228.7" x2="250.93" y2="230.7" stroke="#000" stroke-width="0.75" />
<line x1="252.14" y1="228.7" x2="252.14" y2="230.7" stroke="#000" stroke-width="0.75" />
<line x1="253.13" y1="228.7" x2="253.13" y2="230.7" stroke="#000" stroke-width="0.75" />
<line x1="253.96" y1="228.7" x2="253.96" y2="230.7" stroke="#000" stroke-width="0.75" />
<line x1="254.69" y1="228.7" x2="254.69" y2="230.7" stroke="#000" stroke-width="0.75" />
<line x1="255.33" y1="228.7" x2="255.33" y2="230.7" stroke="#000" stroke-width="0.75" />
<line x1="259.26" y1="228.7" x2="259.26" y2="230.7" stroke="#000" stroke-width="0.75" />
<line x1="261.46" y1="228.7" x2="261.46" y2="230.7" stroke="#000" stroke-width="0.75" />
<line x1="263.03" y1="228.7" x2="263.03" y2="230.7" stroke="#000" stroke-width="0.75" />
<line x1="264.24" y1="228.7" x2="264.24" y2="230.7" stroke="#000" stroke-width="0.75" />
<line x1="265.23" y1="228.7" x2="265.23" y2="230.7" stroke="#000" stroke-width="0.75" />
<line x1="266.06" y1="228.7" x2="266.06" y2="230.7" stroke="#000" stroke-width="0.75" />
<line x1="266.79" y1="228.7" x2="266.79" y2="230.7" stroke="#000" stroke-width="0.75" />
<line x1="267.43" y1="228.7" x2="267.43" y2="230.7" stroke="#000" stroke-width="0.75" />
<line x1="221.6" y1="228.7" x2="221.6" y2="230.7" stroke="#000" stroke-width="0.75" />
<line x1="223.1" y1="228.7" x2="223.1" y2="230.7" stroke="#000" stroke-width="0.75" />
<line x1="227.1" y1="228.7" x2="227.1" y2="230.7" stroke="#000" stroke-width="0.75" />
<line x1="228.8" y1="228.7" x2="228.8" y2="230.7" stroke="#000" stroke-width="0.75" />
<text x="213.7" y="181.25" font-size="5.5" text-anchor="end" fill="#1a1a1a">10<tspan font-size="3.96" dy="-2.31">5</tspan></text>
<text x="213.7" y="193.95" font-size="5.5" text-anchor="end" fill="#1a1a1a">10<tspan font-size="3.96" dy="-2.31">4</tspan></text>
<text x="213.7" y="206.65" font-size="5.5" text-anchor="end" fill="#1a1a1a">10<tspan font-size="3.96" dy="-2.31">3</tspan></text>
<text x="213.7" y="219.35" font-size="5.5" text-anchor="end" fill="#1a1a1a">10<tspan font-size="3.96" dy="-2.31">2</tspan></text>
<text x="213.5" y="224.9" font-size="5.5" text-anchor="end" fill="#1a1a1a" >0</text>
<text x="225.1" y="239.5" font-size="5.5" text-anchor="middle" fill="#1a1a1a" >0</text>
<text x="231.9" y="239.5" font-size="5.5" text-anchor="middle" fill="#1a1a1a">10<tspan font-size="3.96" dy="-2.31">2</tspan></text>
<text x="244.4" y="239.5" font-size="5.5" text-anchor="middle" fill="#1a1a1a">10<tspan font-size="3.96" dy="-2.31">3</tspan></text>
<text x="256.5" y="239.5" font-size="5.5" text-anchor="middle" fill="#1a1a1a">10<tspan font-size="3.96" dy="-2.31">4</tspan></text>
<text x="268.9" y="239.5" font-size="5.5" text-anchor="middle" fill="#1a1a1a">10<tspan font-size="3.96" dy="-2.31">5</tspan></text>
<text x="224.2" y="181.6" font-size="6.2" text-anchor="start" fill="#1a1a1a" >14</text>
<text x="137.2" y="16.3" font-size="6.8" text-anchor="start" fill="#1a1a1a" >Gated on Ly5.1<tspan font-size="5" dy="-3">+</tspan></text>
<line x1="53" y1="19.1" x2="273.6" y2="19.1" stroke="#111" stroke-width="1" />
<text x="32.3" y="52.4" font-size="7.3" text-anchor="end" fill="#1a1a1a" >Spleen</text>
<text x="32.3" y="128.1" font-size="7.3" text-anchor="end" fill="#1a1a1a" >Liver</text>
<text x="32.3" y="204.2" font-size="7.3" text-anchor="end" fill="#1a1a1a" >mLN</text>
<line x1="39.4" y1="28" x2="39.4" y2="213.3" stroke="#111" stroke-width="1" />
<path d="M39.4,23.8 L41.8,29 L37,29 Z" fill="#000"/>
<text transform="translate(41.7,229.4) rotate(-90) scale(0.8,1)" font-size="6.4" font-weight="bold" fill="#1a1a1a">IFN-γ</text>
<text transform="translate(61.0,250.4) scale(0.72,1)" font-size="6.6" font-weight="bold" fill="#1a1a1a">CD8</text>
<line x1="72.9" y1="248.1" x2="268" y2="248.1" stroke="#333" stroke-width="0.9" />
<path d="M272,248.1 L266.8,245.7 L266.8,250.5 Z" fill="#000"/>
<line x1="317" y1="47.22" x2="317" y2="123.8" stroke="#222" stroke-width="1.1" />
<line x1="314.4" y1="123.3" x2="391.2" y2="123.3" stroke="#222" stroke-width="1.1" />
<line x1="314.4" y1="49.42" x2="317" y2="49.42" stroke="#222" stroke-width="1" />
<text x="311.5" y="52.82" font-size="7.6" text-anchor="end" fill="#1a1a1a" letter-spacing="0.35">75</text>
<line x1="314.4" y1="74.05" x2="317" y2="74.05" stroke="#222" stroke-width="1" />
<text x="311.5" y="77.45" font-size="7.6" text-anchor="end" fill="#1a1a1a" letter-spacing="0.35">50</text>
<line x1="314.4" y1="98.67" x2="317" y2="98.67" stroke="#222" stroke-width="1" />
<text x="311.5" y="102.08" font-size="7.6" text-anchor="end" fill="#1a1a1a" letter-spacing="0.35">25</text>
<text x="311.2" y="125.7" font-size="7.6" text-anchor="end" fill="#1a1a1a" >0</text>
<line x1="335.6" y1="123.3" x2="335.6" y2="126.5" stroke="#222" stroke-width="1" />
<line x1="353.8" y1="123.3" x2="353.8" y2="126.5" stroke="#222" stroke-width="1" />
<line x1="372" y1="123.3" x2="372" y2="126.5" stroke="#222" stroke-width="1" />
<text transform="translate(296.2,84) rotate(-90)" font-size="7.8" text-anchor="middle" textLength="32.6" lengthAdjust="spacingAndGlyphs" fill="#1a1a1a" style="stroke-width:0.35px">% in spleen</text>
<path d="M328.7,66.38 L331.2,70.68 L326.2,70.68 Z" fill="#1d3f8a"/>
<path d="M334,66.38 L336.5,70.68 L331.5,70.68 Z" fill="#1d3f8a"/>
<path d="M342.2,66.38 L344.7,70.68 L339.7,70.68 Z" fill="#1d3f8a"/>
<path d="M331.1,71.58 L333.6,75.88 L328.6,75.88 Z" fill="#1d3f8a"/>
<path d="M336.9,70.78 L339.4,75.08 L334.4,75.08 Z" fill="#1d3f8a"/>
<path d="M339.8,70.28 L342.3,74.58 L337.3,74.58 Z" fill="#1d3f8a"/>
<line x1="326" y1="70" x2="344" y2="70" stroke="#000" stroke-width="1" />
<line x1="335" y1="69" x2="335" y2="71" stroke="#000" stroke-width="0.9" />
<circle cx="347" cy="68.3" r="2.35" fill="#5aa832"/>
<circle cx="353.7" cy="63.3" r="2.35" fill="#5aa832"/>
<circle cx="360.6" cy="68.3" r="2.35" fill="#5aa832"/>
<circle cx="347" cy="73.6" r="2.35" fill="#5aa832"/>
<circle cx="347" cy="79.1" r="2.35" fill="#5aa832"/>
<circle cx="360.6" cy="76.4" r="2.35" fill="#5aa832"/>
<line x1="349" y1="69.3" x2="358" y2="69.3" stroke="#000" stroke-width="0.9" />
<line x1="349" y1="74.4" x2="358" y2="74.4" stroke="#000" stroke-width="0.9" />
<line x1="350.75" y1="71.6" x2="356.25" y2="71.6" stroke="#000" stroke-width="0.9" />
<line x1="353.3" y1="69.3" x2="353.3" y2="74.4" stroke="#000" stroke-width="0.9" />
<rect x="363.1" y="60.3" width="4.6" height="4.6" fill="#a8002e"/>
<rect x="363.1" y="64.9" width="4.6" height="4.6" fill="#a8002e"/>
<rect x="372.1" y="64.1" width="4.6" height="4.6" fill="#a8002e"/>
<rect x="376.4" y="64.1" width="4.6" height="4.6" fill="#a8002e"/>
<line x1="367.7" y1="65.9" x2="376.7" y2="65.9" stroke="#000" stroke-width="1.2" />
<line x1="372.2" y1="64.8" x2="372.2" y2="67" stroke="#000" stroke-width="0.9" />
<line x1="317" y1="145.43" x2="317" y2="222" stroke="#222" stroke-width="1.1" />
<line x1="314.4" y1="221.5" x2="391.2" y2="221.5" stroke="#222" stroke-width="1.1" />
<line x1="314.4" y1="147.62" x2="317" y2="147.62" stroke="#222" stroke-width="1" />
<text x="311.5" y="151.03" font-size="7.6" text-anchor="end" fill="#1a1a1a" letter-spacing="0.35">75</text>
<line x1="314.4" y1="172.25" x2="317" y2="172.25" stroke="#222" stroke-width="1" />
<text x="311.5" y="175.65" font-size="7.6" text-anchor="end" fill="#1a1a1a" letter-spacing="0.35">50</text>
<line x1="314.4" y1="196.88" x2="317" y2="196.88" stroke="#222" stroke-width="1" />
<text x="311.5" y="200.28" font-size="7.6" text-anchor="end" fill="#1a1a1a" letter-spacing="0.35">25</text>
<text x="311.2" y="223.9" font-size="7.6" text-anchor="end" fill="#1a1a1a" >0</text>
<line x1="335.6" y1="221.5" x2="335.6" y2="224.7" stroke="#222" stroke-width="1" />
<line x1="353.8" y1="221.5" x2="353.8" y2="224.7" stroke="#222" stroke-width="1" />
<line x1="372" y1="221.5" x2="372" y2="224.7" stroke="#222" stroke-width="1" />
<text transform="translate(296.8,182.9) rotate(-90)" font-size="7.8" text-anchor="middle" textLength="28.6" lengthAdjust="spacingAndGlyphs" fill="#1a1a1a" style="stroke-width:0.35px">% in liver</text>
<path d="M328.5,183.48 L331,187.78 L326,187.78 Z" fill="#1d3f8a"/>
<path d="M335.6,180.88 L338.1,185.18 L333.1,185.18 Z" fill="#1d3f8a"/>
<path d="M335.1,186.58 L337.6,190.88 L332.6,190.88 Z" fill="#1d3f8a"/>
<path d="M328.5,195.38 L331,199.68 L326,199.68 Z" fill="#1d3f8a"/>
<path d="M335.1,192.28 L337.6,196.58 L332.6,196.58 Z" fill="#1d3f8a"/>
<path d="M341.8,193.78 L344.3,198.08 L339.3,198.08 Z" fill="#1d3f8a"/>
<line x1="326.15" y1="190.9" x2="344.65" y2="190.9" stroke="#000" stroke-width="1" />
<line x1="335.4" y1="188.3" x2="335.4" y2="193.2" stroke="#000" stroke-width="0.9" />
<line x1="330.75" y1="188.3" x2="340.05" y2="188.3" stroke="#000" stroke-width="0.9" />
<line x1="330.75" y1="193.2" x2="340.05" y2="193.2" stroke="#000" stroke-width="0.9" />
<circle cx="347" cy="178.9" r="2.35" fill="#5aa832"/>
<circle cx="358.1" cy="178.9" r="2.35" fill="#5aa832"/>
<circle cx="349.6" cy="183.8" r="2.35" fill="#5aa832"/>
<circle cx="354.5" cy="183.8" r="2.35" fill="#5aa832"/>
<circle cx="358" cy="184" r="2.35" fill="#5aa832"/>
<circle cx="348.4" cy="183.2" r="2.35" fill="#5aa832"/>
<line x1="349.35" y1="182.3" x2="357.65" y2="182.3" stroke="#000" stroke-width="1" />
<line x1="353.5" y1="181.5" x2="353.5" y2="183.1" stroke="#000" stroke-width="0.9" />
<line x1="349.35" y1="181.5" x2="357.65" y2="181.5" stroke="#000" stroke-width="0.9" />
<line x1="349.35" y1="183.1" x2="357.65" y2="183.1" stroke="#000" stroke-width="0.9" />
<rect x="362.9" y="183.3" width="4.6" height="4.6" fill="#a8002e"/>
<rect x="367.7" y="181.7" width="4.6" height="4.6" fill="#a8002e"/>
<rect x="372.5" y="183.3" width="4.6" height="4.6" fill="#a8002e"/>
<rect x="376.8" y="182.7" width="4.6" height="4.6" fill="#a8002e"/>
<rect x="370" y="192.7" width="4.6" height="4.6" fill="#a8002e"/>
<rect x="370" y="196.6" width="4.6" height="4.6" fill="#a8002e"/>
<rect x="372.1" y="185.1" width="4.6" height="4.6" fill="#a8002e"/>
<line x1="368" y1="186.7" x2="376.4" y2="186.7" stroke="#000" stroke-width="1" />
<line x1="370.2" y1="189" x2="374.8" y2="189" stroke="#000" stroke-width="0.9" />
<line x1="367.5" y1="191.5" x2="376.9" y2="191.5" stroke="#000" stroke-width="1" />
<line x1="372.5" y1="186.7" x2="372.5" y2="191.5" stroke="#000" stroke-width="0.9" />
<path d="M334.4,172.2 L334.4,169.6 L355.2,169.6 L355.2,172.2" fill="none" stroke="#222" stroke-width="0.9"/>
<text x="344.9" y="167.6" font-size="5.5" text-anchor="middle" fill="#1a1a1a" >*</text>
<line x1="438.9" y1="145.53" x2="438.9" y2="222.1" stroke="#222" stroke-width="1.1" />
<line x1="436.3" y1="221.6" x2="513.4" y2="221.6" stroke="#222" stroke-width="1.1" />
<line x1="436.3" y1="147.72" x2="438.9" y2="147.72" stroke="#222" stroke-width="1" />
<text x="433.4" y="151.12" font-size="7.6" text-anchor="end" fill="#1a1a1a" letter-spacing="0.35">75</text>
<line x1="436.3" y1="172.35" x2="438.9" y2="172.35" stroke="#222" stroke-width="1" />
<text x="433.4" y="175.75" font-size="7.6" text-anchor="end" fill="#1a1a1a" letter-spacing="0.35">50</text>
<line x1="436.3" y1="196.97" x2="438.9" y2="196.97" stroke="#222" stroke-width="1" />
<text x="433.4" y="200.38" font-size="7.6" text-anchor="end" fill="#1a1a1a" letter-spacing="0.35">25</text>
<text x="433.1" y="224" font-size="7.6" text-anchor="end" fill="#1a1a1a" >0</text>
<line x1="457.5" y1="221.6" x2="457.5" y2="224.8" stroke="#222" stroke-width="1" />
<line x1="475.7" y1="221.6" x2="475.7" y2="224.8" stroke="#222" stroke-width="1" />
<line x1="493.9" y1="221.6" x2="493.9" y2="224.8" stroke="#222" stroke-width="1" />
<text transform="translate(418,183.3) rotate(-90)" font-size="7.8" text-anchor="middle" textLength="29.2" lengthAdjust="spacingAndGlyphs" fill="#1a1a1a" style="stroke-width:0.35px">% in mLN</text>
<path d="M457.6,176.48 L460.1,180.78 L455.1,180.78 Z" fill="#1d3f8a"/>
<path d="M457.6,183.28 L460.1,187.58 L455.1,187.58 Z" fill="#1d3f8a"/>
<path d="M450.8,196.88 L453.3,201.18 L448.3,201.18 Z" fill="#1d3f8a"/>
<path d="M464.4,192.98 L466.9,197.28 L461.9,197.28 Z" fill="#1d3f8a"/>
<path d="M457.6,203.58 L460.1,207.88 L455.1,207.88 Z" fill="#1d3f8a"/>
<path d="M457.6,210.38 L460.1,214.68 L455.1,214.68 Z" fill="#1d3f8a"/>
<line x1="448.3" y1="195.6" x2="466.7" y2="195.6" stroke="#000" stroke-width="1" />
<line x1="457.5" y1="190.2" x2="457.5" y2="200.8" stroke="#000" stroke-width="0.9" />
<line x1="452.85" y1="190.2" x2="462.15" y2="190.2" stroke="#000" stroke-width="0.9" />
<line x1="452.85" y1="200.8" x2="462.15" y2="200.8" stroke="#000" stroke-width="0.9" />
<circle cx="468.9" cy="187.5" r="2.35" fill="#5aa832"/>
<circle cx="482.5" cy="186.8" r="2.35" fill="#5aa832"/>
<circle cx="475.5" cy="195.5" r="2.35" fill="#5aa832"/>
<circle cx="468.9" cy="205.3" r="2.35" fill="#5aa832"/>
<circle cx="482.5" cy="205.9" r="2.35" fill="#5aa832"/>
<circle cx="475.9" cy="215.2" r="2.35" fill="#5aa832"/>
<line x1="471.4" y1="199.3" x2="480.4" y2="199.3" stroke="#000" stroke-width="1" />
<line x1="475.9" y1="194.4" x2="475.9" y2="203.6" stroke="#000" stroke-width="0.9" />
<line x1="471.55" y1="194.4" x2="480.25" y2="194.4" stroke="#000" stroke-width="0.9" />
<line x1="471.55" y1="203.6" x2="480.25" y2="203.6" stroke="#000" stroke-width="0.9" />
<rect x="492.1" y="186" width="4.6" height="4.6" fill="#a8002e"/>
<rect x="485.4" y="203" width="4.6" height="4.6" fill="#a8002e"/>
<rect x="485.4" y="208.5" width="4.6" height="4.6" fill="#a8002e"/>
<rect x="490.2" y="206.8" width="4.6" height="4.6" fill="#a8002e"/>
<rect x="494.7" y="206.8" width="4.6" height="4.6" fill="#a8002e"/>
<rect x="498.9" y="206.8" width="4.6" height="4.6" fill="#a8002e"/>
<line x1="489" y1="208.1" x2="499.4" y2="208.1" stroke="#000" stroke-width="1" />
<line x1="494.2" y1="201.3" x2="494.2" y2="210" stroke="#000" stroke-width="0.9" />
<line x1="489.95" y1="201.3" x2="498.45" y2="201.3" stroke="#000" stroke-width="0.9" />
<line x1="489.95" y1="210" x2="498.45" y2="210" stroke="#000" stroke-width="0.9" />
<text x="389.8" y="44" font-size="9.2" text-anchor="start" fill="#1a1a1a" >% CD8<tspan font-size="6" dy="-3.4">+</tspan><tspan dy="3.4">IFN-γ</tspan><tspan font-size="6" dy="-3.4">+</tspan></text>
<path d="M412.3,72.46 L414.7,76.59 L409.9,76.59 Z" fill="#1d3f8a"/>
<circle cx="412" cy="85.1" r="2.4" fill="#5aa832"/>
<rect x="409.8" y="94.1" width="4.4" height="4.4" fill="#a8002e"/>
<text x="417.8" y="76.4" font-size="7.2" text-anchor="start" fill="#1a1a1a" >BM+Teffs</text>
<text x="417.8" y="87.4" font-size="7.2" text-anchor="start" fill="#1a1a1a" >+ Control CD8<tspan font-size="4.6" dy="-2.6">+</tspan><tspan dy="2.6"> iTregs</tspan></text>
<text x="417.8" y="98.5" font-size="7.2" text-anchor="start" fill="#1a1a1a" >+ Vit C-treated CD8<tspan font-size="4.6" dy="-2.6">+</tspan><tspan dy="2.6"> iTregs</tspan></text>
</svg></body></html>
